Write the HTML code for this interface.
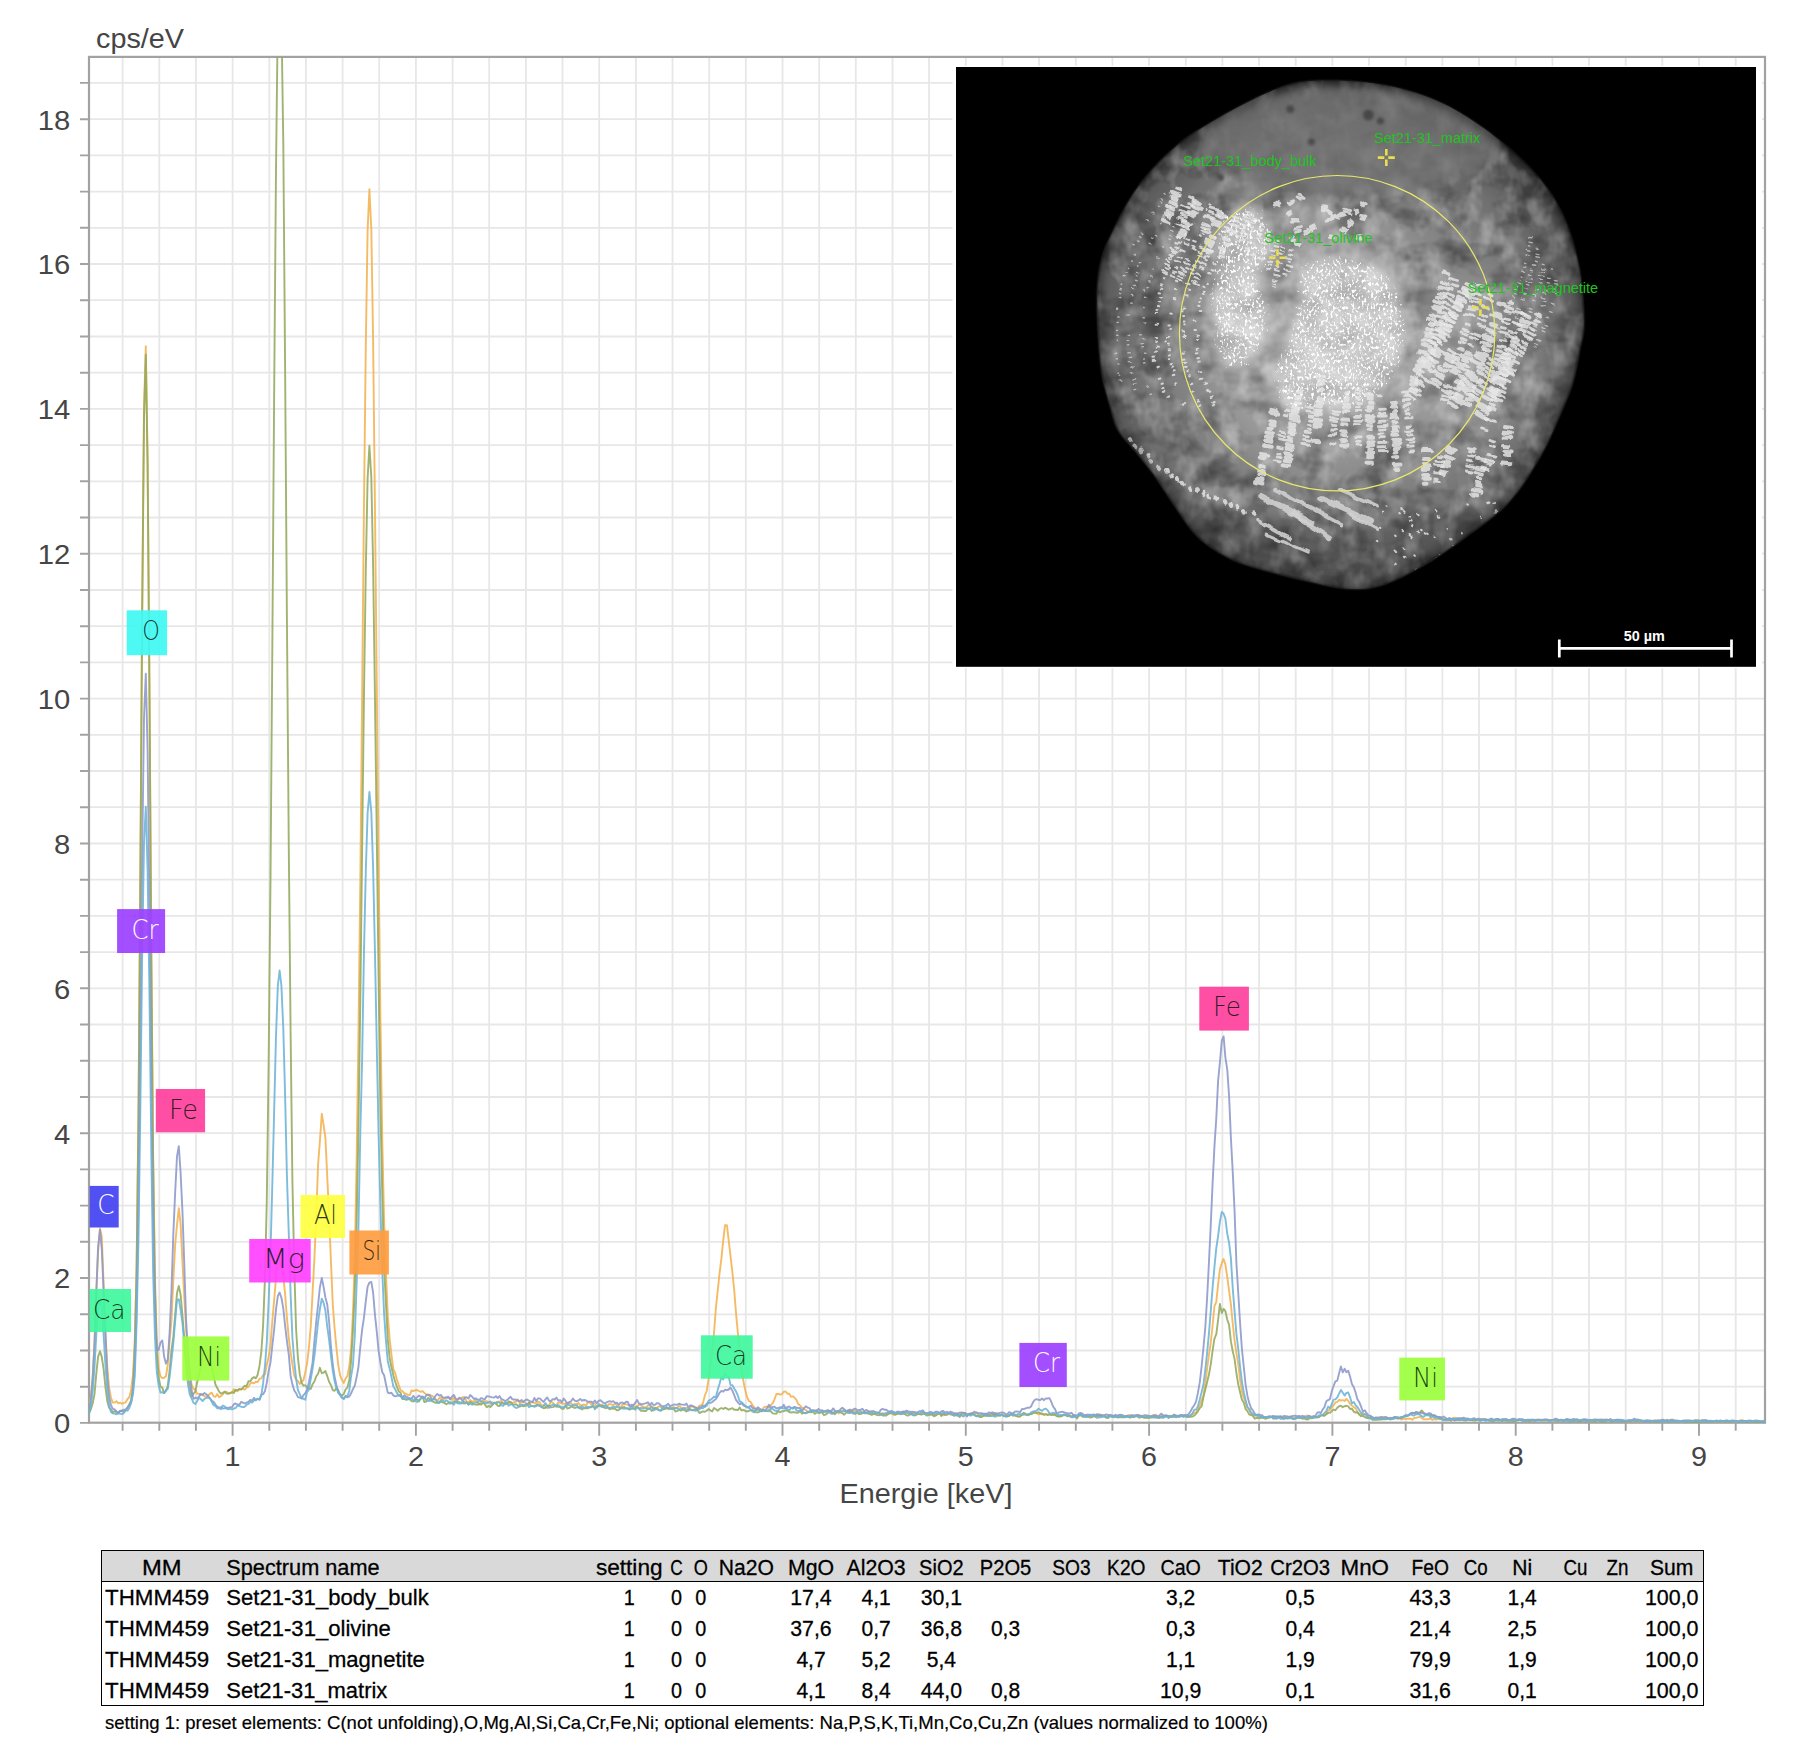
<!DOCTYPE html>
<html lang="de"><head><meta charset="utf-8"><title>EDS Spektrum THMM459 Set21-31</title>
<style>
html,body{margin:0;padding:0;background:#fff;}
body{width:1796px;height:1764px;overflow:hidden;font-family:"Liberation Sans",sans-serif;}
svg{display:block;}
</style></head><body>
<svg width="1796" height="1764" viewBox="0 0 1796 1764">
<rect width="1796" height="1764" fill="#fff"/>
<defs><clipPath id="pc"><rect x="89.0" y="56.9" width="1676.0" height="1366.8"/></clipPath></defs>
<path d="M122.6 56.9V1422.7M159.3 56.9V1422.7M195.9 56.9V1422.7M232.6 56.9V1422.7M269.3 56.9V1422.7M305.9 56.9V1422.7M342.6 56.9V1422.7M379.2 56.9V1422.7M415.9 56.9V1422.7M452.6 56.9V1422.7M489.2 56.9V1422.7M525.9 56.9V1422.7M562.5 56.9V1422.7M599.2 56.9V1422.7M635.9 56.9V1422.7M672.5 56.9V1422.7M709.2 56.9V1422.7M745.8 56.9V1422.7M782.5 56.9V1422.7M819.2 56.9V1422.7M855.8 56.9V1422.7M892.5 56.9V1422.7M929.1 56.9V1422.7M965.8 56.9V1422.7M1002.5 56.9V1422.7M1039.1 56.9V1422.7M1075.8 56.9V1422.7M1112.4 56.9V1422.7M1149.1 56.9V1422.7M1185.8 56.9V1422.7M1222.4 56.9V1422.7M1259.1 56.9V1422.7M1295.7 56.9V1422.7M1332.4 56.9V1422.7M1369.1 56.9V1422.7M1405.7 56.9V1422.7M1442.4 56.9V1422.7M1479.0 56.9V1422.7M1515.7 56.9V1422.7M1552.4 56.9V1422.7M1589.0 56.9V1422.7M1625.7 56.9V1422.7M1662.3 56.9V1422.7M1699.0 56.9V1422.7M1735.7 56.9V1422.7M89.0 1386.7H1765.0M89.0 1350.5H1765.0M89.0 1314.3H1765.0M89.0 1278.0H1765.0M89.0 1241.8H1765.0M89.0 1205.6H1765.0M89.0 1169.4H1765.0M89.0 1133.2H1765.0M89.0 1097.0H1765.0M89.0 1060.8H1765.0M89.0 1024.5H1765.0M89.0 988.3H1765.0M89.0 952.1H1765.0M89.0 915.9H1765.0M89.0 879.7H1765.0M89.0 843.5H1765.0M89.0 807.2H1765.0M89.0 771.0H1765.0M89.0 734.8H1765.0M89.0 698.6H1765.0M89.0 662.4H1765.0M89.0 626.2H1765.0M89.0 590.0H1765.0M89.0 553.7H1765.0M89.0 517.5H1765.0M89.0 481.3H1765.0M89.0 445.1H1765.0M89.0 408.9H1765.0M89.0 372.7H1765.0M89.0 336.5H1765.0M89.0 300.2H1765.0M89.0 264.0H1765.0M89.0 227.8H1765.0M89.0 191.6H1765.0M89.0 155.4H1765.0M89.0 119.2H1765.0M89.0 82.9H1765.0" stroke="#e7e7e7" stroke-width="1.8" fill="none"/>
<rect x="89.0" y="56.9" width="1676.0" height="1365.8" fill="none" stroke="#a2a2a2" stroke-width="2.2"/>
<g clip-path="url(#pc)" fill="none" stroke-width="1.9" stroke-linejoin="round" stroke-opacity="0.88">
<polyline stroke="#f3b24e" points="89.0,1406.5 90.8,1396.7 92.7,1376.5 94.5,1342.3 96.3,1294.0 98.1,1251.6 100.0,1228.4 101.8,1236.9 103.6,1283.7 105.5,1333.0 107.3,1366.8 109.1,1387.8 111.0,1397.8 112.8,1402.6 114.6,1402.6 116.5,1401.2 118.3,1403.3 120.1,1402.7 122.0,1403.8 123.8,1402.9 125.6,1402.4 127.5,1399.0 129.3,1397.3 131.1,1389.9 133.0,1374.8 134.8,1339.1 136.6,1266.7 138.5,1112.1 140.3,877.4 142.1,616.0 144.0,408.9 145.8,346.1 147.6,457.4 149.5,689.8 151.3,946.9 153.1,1154.1 155.0,1280.1 156.8,1339.8 158.6,1368.1 160.5,1376.4 162.3,1378.1 164.1,1377.7 166.0,1376.3 167.8,1364.3 169.6,1341.1 171.5,1319.9 173.3,1280.6 175.1,1245.7 177.0,1225.0 178.8,1208.3 180.6,1223.9 182.5,1263.1 184.3,1297.4 186.1,1329.1 188.0,1357.4 189.8,1373.6 191.6,1384.5 193.5,1388.8 195.3,1389.5 197.1,1393.6 199.0,1393.9 200.8,1394.8 202.6,1394.5 204.5,1396.4 206.3,1396.3 208.1,1395.5 210.0,1393.7 211.8,1392.7 213.6,1396.4 215.5,1396.8 217.3,1394.1 219.1,1397.3 221.0,1396.1 222.8,1394.4 224.6,1391.8 226.5,1391.7 228.3,1393.2 230.1,1393.4 232.0,1392.8 233.8,1389.3 235.6,1391.0 237.5,1391.2 239.3,1389.4 241.1,1389.1 243.0,1388.8 244.8,1389.7 246.6,1387.6 248.5,1386.9 250.3,1383.5 252.1,1382.7 254.0,1383.4 255.8,1381.7 257.6,1382.1 259.5,1378.9 261.3,1378.4 263.1,1375.2 265.0,1374.2 266.8,1364.7 268.6,1357.1 270.5,1344.7 272.3,1321.3 274.1,1300.5 276.0,1278.2 277.8,1255.2 279.6,1258.6 281.4,1266.2 283.3,1276.4 285.1,1294.0 286.9,1317.4 288.8,1338.2 290.6,1352.4 292.4,1364.2 294.3,1375.6 296.1,1379.5 297.9,1381.1 299.8,1384.0 301.6,1381.6 303.4,1380.5 305.3,1372.3 307.1,1363.0 308.9,1347.8 310.8,1325.8 312.6,1292.4 314.4,1258.6 316.3,1214.0 318.1,1164.0 319.9,1141.2 321.8,1113.7 323.6,1124.8 325.4,1138.1 327.3,1177.7 329.1,1216.2 330.9,1260.4 332.8,1305.0 334.6,1328.3 336.4,1347.5 338.3,1365.3 340.1,1375.4 341.9,1379.8 343.8,1382.9 345.6,1378.5 347.4,1376.0 349.3,1366.3 351.1,1348.5 352.9,1314.4 354.8,1259.6 356.6,1161.7 358.4,1040.2 360.3,883.0 362.1,699.5 363.9,511.2 365.8,345.5 367.6,230.9 369.4,189.3 371.3,228.5 373.1,340.1 374.9,502.0 376.8,685.6 378.6,863.7 380.4,1017.4 382.3,1142.0 384.1,1220.6 385.9,1271.7 387.8,1316.4 389.6,1338.7 391.4,1354.4 393.3,1368.8 395.1,1373.0 396.9,1379.8 398.8,1385.3 400.6,1390.3 402.4,1391.1 404.3,1393.3 406.1,1393.7 407.9,1394.9 409.8,1395.1 411.6,1390.3 413.4,1391.1 415.3,1390.2 417.1,1390.0 418.9,1391.0 420.8,1391.9 422.6,1391.0 424.4,1393.1 426.3,1394.6 428.1,1395.5 429.9,1394.7 431.8,1395.8 433.6,1397.1 435.4,1399.1 437.3,1401.1 439.1,1398.3 440.9,1397.3 442.8,1399.0 444.6,1398.7 446.4,1398.1 448.3,1398.0 450.1,1397.9 451.9,1399.9 453.8,1397.8 455.6,1400.9 457.4,1399.3 459.3,1398.9 461.1,1398.6 462.9,1397.1 464.7,1397.3 466.6,1401.2 468.4,1403.2 470.2,1400.1 472.1,1401.5 473.9,1401.1 475.7,1399.5 477.6,1402.6 479.4,1404.5 481.2,1401.5 483.1,1400.7 484.9,1401.3 486.7,1401.1 488.6,1402.3 490.4,1403.7 492.2,1402.2 494.1,1402.8 495.9,1404.1 497.7,1401.6 499.6,1401.4 501.4,1401.1 503.2,1402.9 505.1,1403.1 506.9,1403.5 508.7,1403.6 510.6,1402.1 512.4,1403.0 514.2,1402.0 516.1,1401.6 517.9,1399.4 519.7,1403.2 521.6,1401.8 523.4,1402.1 525.2,1402.5 527.1,1404.4 528.9,1403.8 530.7,1401.8 532.6,1402.5 534.4,1402.7 536.2,1403.1 538.1,1401.5 539.9,1402.4 541.7,1405.9 543.6,1404.9 545.4,1406.0 547.2,1408.2 549.1,1405.3 550.9,1401.8 552.7,1402.7 554.6,1404.9 556.4,1405.2 558.2,1402.4 560.1,1402.9 561.9,1403.5 563.7,1403.7 565.6,1403.7 567.4,1402.7 569.2,1402.8 571.1,1403.4 572.9,1405.2 574.7,1403.8 576.6,1404.7 578.4,1403.0 580.2,1405.3 582.1,1405.0 583.9,1404.4 585.7,1406.0 587.6,1402.8 589.4,1401.9 591.2,1404.5 593.1,1403.8 594.9,1403.9 596.7,1407.8 598.6,1405.6 600.4,1404.8 602.2,1404.8 604.1,1406.3 605.9,1405.8 607.7,1405.5 609.6,1403.8 611.4,1404.4 613.2,1405.2 615.1,1403.5 616.9,1405.5 618.7,1406.3 620.6,1408.0 622.4,1404.5 624.2,1404.0 626.1,1404.4 627.9,1404.7 629.7,1405.6 631.6,1405.8 633.4,1406.4 635.2,1406.6 637.1,1406.3 638.9,1404.5 640.7,1405.2 642.6,1406.4 644.4,1407.3 646.2,1407.6 648.0,1405.1 649.9,1405.6 651.7,1406.6 653.5,1407.3 655.4,1408.4 657.2,1407.6 659.0,1406.2 660.9,1407.3 662.7,1407.7 664.5,1407.7 666.4,1407.4 668.2,1409.3 670.0,1408.5 671.9,1408.7 673.7,1407.0 675.5,1408.3 677.4,1407.4 679.2,1405.9 681.0,1407.7 682.9,1408.8 684.7,1408.0 686.5,1407.9 688.4,1409.1 690.2,1407.8 692.0,1405.4 693.9,1407.2 695.7,1407.6 697.5,1408.0 699.4,1405.7 701.2,1405.3 703.0,1403.1 704.9,1395.3 706.7,1391.0 708.5,1379.6 710.4,1364.9 712.2,1351.7 714.0,1333.3 715.9,1307.8 717.7,1290.9 719.5,1273.6 721.4,1258.7 723.2,1240.6 725.0,1225.3 726.9,1225.2 728.7,1240.5 730.5,1255.8 732.4,1272.4 734.2,1290.2 736.0,1312.9 737.9,1333.2 739.7,1351.5 741.5,1368.7 743.4,1381.1 745.2,1389.9 747.0,1397.0 748.9,1401.0 750.7,1402.1 752.5,1405.2 754.4,1407.5 756.2,1410.3 758.0,1408.9 759.9,1410.8 761.7,1411.0 763.5,1407.9 765.4,1406.6 767.2,1406.8 769.0,1407.8 770.9,1405.2 772.7,1403.2 774.5,1399.3 776.4,1394.0 778.2,1393.9 780.0,1394.5 781.9,1394.3 783.7,1391.8 785.5,1391.4 787.4,1393.7 789.2,1393.6 791.0,1396.8 792.9,1396.3 794.7,1397.7 796.5,1400.1 798.4,1404.3 800.2,1405.6 802.0,1407.4 803.9,1409.1 805.7,1410.0 807.5,1411.5 809.4,1412.4 811.2,1410.4 813.0,1410.8 814.9,1410.9 816.7,1410.1 818.5,1412.6 820.4,1412.6 822.2,1411.4 824.0,1410.9 825.9,1411.7 827.7,1410.6 829.5,1411.0 831.3,1412.7 833.2,1412.9 835.0,1411.1 836.8,1410.9 838.7,1413.4 840.5,1411.0 842.3,1410.7 844.2,1410.3 846.0,1411.8 847.8,1412.3 849.7,1413.1 851.5,1409.8 853.3,1411.3 855.2,1410.5 857.0,1412.2 858.8,1412.1 860.7,1413.7 862.5,1413.1 864.3,1411.4 866.2,1413.1 868.0,1411.6 869.8,1411.6 871.7,1413.2 873.5,1413.2 875.3,1413.0 877.2,1412.6 879.0,1413.0 880.8,1413.5 882.7,1413.1 884.5,1413.7 886.3,1414.2 888.2,1413.1 890.0,1411.9 891.8,1413.9 893.7,1413.3 895.5,1413.4 897.3,1414.0 899.2,1412.4 901.0,1413.1 902.8,1411.7 904.7,1413.3 906.5,1412.9 908.3,1413.2 910.2,1413.9 912.0,1412.8 913.8,1413.1 915.7,1412.7 917.5,1413.1 919.3,1414.3 921.2,1413.7 923.0,1413.3 924.8,1412.5 926.7,1414.0 928.5,1413.8 930.3,1415.1 932.2,1413.5 934.0,1414.4 935.8,1415.6 937.7,1414.2 939.5,1412.7 941.3,1414.8 943.2,1415.2 945.0,1414.8 946.8,1415.1 948.7,1413.9 950.5,1414.5 952.3,1414.8 954.2,1413.7 956.0,1414.5 957.8,1413.9 959.7,1414.8 961.5,1415.5 963.3,1416.1 965.2,1413.1 967.0,1414.0 968.8,1414.1 970.7,1414.2 972.5,1414.2 974.3,1414.2 976.2,1412.7 978.0,1414.7 979.8,1416.0 981.7,1415.7 983.5,1415.8 985.3,1414.2 987.2,1413.5 989.0,1415.1 990.8,1416.0 992.7,1415.2 994.5,1413.5 996.3,1416.6 998.2,1414.9 1000.0,1415.4 1001.8,1414.1 1003.7,1415.3 1005.5,1415.2 1007.3,1416.0 1009.2,1416.0 1011.0,1413.8 1012.8,1413.7 1014.6,1414.9 1016.5,1415.6 1018.3,1416.6 1020.1,1415.6 1022.0,1414.8 1023.8,1414.7 1025.6,1414.6 1027.5,1415.4 1029.3,1414.7 1031.1,1414.2 1033.0,1412.9 1034.8,1411.8 1036.6,1413.3 1038.5,1414.4 1040.3,1413.9 1042.1,1414.2 1044.0,1414.6 1045.8,1414.1 1047.6,1414.9 1049.5,1414.0 1051.3,1414.3 1053.1,1414.4 1055.0,1414.8 1056.8,1415.5 1058.6,1416.0 1060.5,1415.6 1062.3,1415.7 1064.1,1415.2 1066.0,1415.3 1067.8,1416.5 1069.6,1415.7 1071.5,1416.5 1073.3,1416.3 1075.1,1415.9 1077.0,1417.3 1078.8,1416.0 1080.6,1415.4 1082.5,1415.7 1084.3,1416.0 1086.1,1416.0 1088.0,1416.5 1089.8,1416.1 1091.6,1416.2 1093.5,1415.8 1095.3,1416.7 1097.1,1415.9 1099.0,1415.6 1100.8,1415.9 1102.6,1416.2 1104.5,1415.5 1106.3,1417.0 1108.1,1416.0 1110.0,1415.6 1111.8,1415.7 1113.6,1415.6 1115.5,1416.4 1117.3,1416.4 1119.1,1415.6 1121.0,1415.6 1122.8,1415.8 1124.6,1417.2 1126.5,1416.1 1128.3,1415.1 1130.1,1415.1 1132.0,1415.7 1133.8,1417.3 1135.6,1415.9 1137.5,1416.1 1139.3,1418.2 1141.1,1416.6 1143.0,1417.3 1144.8,1417.7 1146.6,1417.1 1148.5,1415.6 1150.3,1416.3 1152.1,1416.3 1154.0,1415.0 1155.8,1414.8 1157.6,1416.1 1159.5,1416.7 1161.3,1417.5 1163.1,1417.3 1165.0,1416.3 1166.8,1416.1 1168.6,1416.3 1170.5,1415.7 1172.3,1416.8 1174.1,1416.7 1176.0,1415.9 1177.8,1415.8 1179.6,1415.4 1181.5,1415.8 1183.3,1416.4 1185.1,1415.9 1187.0,1416.6 1188.8,1417.2 1190.6,1415.1 1192.5,1414.2 1194.3,1412.8 1196.1,1412.8 1197.9,1409.4 1199.8,1405.2 1201.6,1400.3 1203.4,1395.5 1205.3,1383.9 1207.1,1368.5 1208.9,1354.9 1210.8,1342.5 1212.6,1325.5 1214.4,1306.3 1216.3,1301.9 1218.1,1284.4 1219.9,1269.5 1221.8,1263.1 1223.6,1259.0 1225.4,1264.5 1227.3,1277.2 1229.1,1290.8 1230.9,1304.4 1232.8,1324.2 1234.6,1340.4 1236.4,1353.1 1238.3,1364.3 1240.1,1380.1 1241.9,1391.0 1243.8,1398.2 1245.6,1402.4 1247.4,1407.9 1249.3,1409.9 1251.1,1413.8 1252.9,1415.1 1254.8,1415.8 1256.6,1415.6 1258.4,1415.5 1260.3,1417.5 1262.1,1417.9 1263.9,1416.9 1265.8,1417.4 1267.6,1418.3 1269.4,1416.8 1271.3,1416.6 1273.1,1416.8 1274.9,1417.5 1276.8,1416.7 1278.6,1417.3 1280.4,1416.7 1282.3,1417.8 1284.1,1418.2 1285.9,1417.5 1287.8,1417.9 1289.6,1417.2 1291.4,1417.2 1293.3,1418.1 1295.1,1417.7 1296.9,1417.7 1298.8,1417.0 1300.6,1417.8 1302.4,1418.0 1304.3,1416.8 1306.1,1415.7 1307.9,1415.6 1309.8,1417.0 1311.6,1417.2 1313.4,1416.1 1315.3,1416.8 1317.1,1417.5 1318.9,1416.4 1320.8,1415.3 1322.6,1415.4 1324.4,1415.5 1326.3,1414.3 1328.1,1410.7 1329.9,1409.7 1331.8,1407.7 1333.6,1405.1 1335.4,1402.5 1337.3,1401.9 1339.1,1399.8 1340.9,1400.5 1342.8,1400.1 1344.6,1401.0 1346.4,1399.0 1348.3,1400.9 1350.1,1404.0 1351.9,1405.6 1353.8,1407.3 1355.6,1408.2 1357.4,1412.1 1359.3,1413.9 1361.1,1414.4 1362.9,1413.0 1364.8,1414.5 1366.6,1416.5 1368.4,1416.7 1370.3,1416.0 1372.1,1417.5 1373.9,1418.3 1375.8,1417.4 1377.6,1417.6 1379.4,1417.8 1381.2,1418.5 1383.1,1417.3 1384.9,1416.9 1386.7,1417.7 1388.6,1417.9 1390.4,1419.6 1392.2,1418.5 1394.1,1418.5 1395.9,1418.3 1397.7,1418.0 1399.6,1418.6 1401.4,1419.6 1403.2,1418.6 1405.1,1418.8 1406.9,1418.7 1408.7,1418.7 1410.6,1418.6 1412.4,1419.7 1414.2,1417.9 1416.1,1417.7 1417.9,1417.4 1419.7,1416.6 1421.6,1417.7 1423.4,1419.4 1425.2,1419.2 1427.1,1419.3 1428.9,1419.0 1430.7,1418.6 1432.6,1419.9 1434.4,1419.0 1436.2,1419.7 1438.1,1419.0 1439.9,1419.0 1441.7,1419.2 1443.6,1419.2 1445.4,1419.4 1447.2,1419.6 1449.1,1420.3 1450.9,1419.6 1452.7,1418.2 1454.6,1417.8 1456.4,1418.2 1458.2,1418.7 1460.1,1419.6 1461.9,1418.7 1463.7,1419.2 1465.6,1419.5 1467.4,1419.6 1469.2,1419.5 1471.1,1419.7 1472.9,1419.6 1474.7,1420.1 1476.6,1419.9 1478.4,1418.4 1480.2,1419.2 1482.1,1419.7 1483.9,1419.4 1485.7,1419.2 1487.6,1420.1 1489.4,1420.0 1491.2,1419.3 1493.1,1419.4 1494.9,1419.6 1496.7,1419.0 1498.6,1419.9 1500.4,1419.9 1502.2,1420.1 1504.1,1419.2 1505.9,1420.6 1507.7,1420.6 1509.6,1420.3 1511.4,1419.7 1513.2,1419.6 1515.1,1419.2 1516.9,1420.6 1518.7,1419.9 1520.6,1420.0 1522.4,1420.4 1524.2,1419.9 1526.1,1420.4 1527.9,1421.2 1529.7,1420.6 1531.6,1420.9 1533.4,1420.7 1535.2,1420.0 1537.1,1419.9 1538.9,1419.3 1540.7,1420.0 1542.6,1420.9 1544.4,1420.8 1546.2,1420.7 1548.1,1420.9 1549.9,1420.2 1551.7,1420.4 1553.6,1421.3 1555.4,1420.2 1557.2,1420.2 1559.1,1420.1 1560.9,1420.2 1562.7,1420.0 1564.5,1420.2 1566.4,1419.7 1568.2,1419.9 1570.0,1420.1 1571.9,1420.1 1573.7,1421.0 1575.5,1420.6 1577.4,1420.5 1579.2,1420.3 1581.0,1421.0 1582.9,1419.8 1584.7,1420.1 1586.5,1420.9 1588.4,1421.4 1590.2,1420.8 1592.0,1420.5 1593.9,1420.8 1595.7,1420.5 1597.5,1420.7 1599.4,1420.3 1601.2,1420.7 1603.0,1420.6 1604.9,1420.1 1606.7,1419.2 1608.5,1420.6 1610.4,1420.9 1612.2,1421.0 1614.0,1420.3 1615.9,1421.0 1617.7,1421.0 1619.5,1420.7 1621.4,1421.0 1623.2,1421.2 1625.0,1421.0 1626.9,1421.6 1628.7,1421.6 1630.5,1421.0 1632.4,1420.7 1634.2,1420.7 1636.0,1421.5 1637.9,1421.2 1639.7,1420.4 1641.5,1420.4 1643.4,1420.7 1645.2,1421.1 1647.0,1420.6 1648.9,1420.9 1650.7,1421.3 1652.5,1421.3 1654.4,1420.3 1656.2,1420.5 1658.0,1420.3 1659.9,1420.9 1661.7,1420.5 1663.5,1421.0 1665.4,1421.0 1667.2,1419.8 1669.0,1420.2 1670.9,1421.0 1672.7,1421.0 1674.5,1420.8 1676.4,1420.4 1678.2,1421.0 1680.0,1421.7 1681.9,1421.3 1683.7,1421.0 1685.5,1420.9 1687.4,1420.4 1689.2,1420.7 1691.0,1420.6 1692.9,1421.3 1694.7,1420.8 1696.5,1420.1 1698.4,1420.4 1700.2,1420.8 1702.0,1421.0 1703.9,1420.3 1705.7,1421.2 1707.5,1421.3 1709.4,1420.9 1711.2,1420.8 1713.0,1421.2 1714.9,1421.1 1716.7,1421.2 1718.5,1421.1 1720.4,1421.2 1722.2,1421.6 1724.0,1421.3 1725.9,1420.9 1727.7,1421.5 1729.5,1421.4 1731.4,1421.0 1733.2,1421.6 1735.0,1421.3 1736.9,1421.6 1738.7,1421.0 1740.5,1420.3 1742.4,1420.2 1744.2,1421.1 1746.0,1421.1 1747.8,1421.2 1749.7,1421.3 1751.5,1420.8 1753.3,1421.6 1755.2,1421.1 1757.0,1421.3 1758.8,1420.9 1760.7,1421.1 1762.5,1421.6 1764.3,1421.4 1766.2,1421.1"/>
<polyline stroke="#93a95c" points="89.0,1413.3 90.8,1409.4 92.7,1403.3 94.5,1394.3 96.3,1373.7 98.1,1356.6 100.0,1351.3 101.8,1357.1 103.6,1369.2 105.5,1387.7 107.3,1401.2 109.1,1407.7 111.0,1409.3 112.8,1412.6 114.6,1411.2 116.5,1412.2 118.3,1413.2 120.1,1410.8 122.0,1411.0 123.8,1412.1 125.6,1410.7 127.5,1407.6 129.3,1404.3 131.1,1400.8 133.0,1386.0 134.8,1347.7 136.6,1269.4 138.5,1114.7 140.3,887.4 142.1,625.3 144.0,417.6 145.8,354.8 147.6,466.9 149.5,700.4 151.3,958.7 153.1,1160.0 155.0,1290.3 156.8,1353.0 158.6,1377.3 160.5,1386.7 162.3,1387.6 164.1,1393.2 166.0,1390.9 167.8,1385.9 169.6,1370.3 171.5,1350.1 173.3,1336.9 175.1,1315.5 177.0,1293.0 178.8,1286.0 180.6,1294.7 182.5,1316.2 184.3,1338.8 186.1,1359.8 188.0,1377.8 189.8,1386.6 191.6,1396.2 193.5,1393.6 195.3,1391.6 197.1,1382.7 199.0,1374.6 200.8,1366.6 202.6,1354.8 204.5,1350.7 206.3,1350.6 208.1,1356.2 210.0,1360.9 211.8,1368.1 213.6,1375.8 215.5,1384.8 217.3,1388.0 219.1,1391.7 221.0,1393.6 222.8,1392.9 224.6,1391.8 226.5,1393.5 228.3,1393.7 230.1,1393.0 232.0,1392.1 233.8,1393.0 235.6,1389.7 237.5,1390.3 239.3,1388.9 241.1,1389.7 243.0,1387.5 244.8,1385.8 246.6,1386.2 248.5,1381.1 250.3,1381.4 252.1,1378.3 254.0,1377.1 255.8,1378.3 257.6,1375.0 259.5,1365.9 261.3,1352.2 263.1,1325.6 265.0,1277.2 266.8,1200.5 268.6,1066.0 270.5,878.6 272.3,650.6 274.1,401.1 276.0,169.7 277.8,16.9 279.6,16.9 281.4,16.9 283.3,142.5 285.1,367.6 286.9,616.5 288.8,849.0 290.6,1031.8 292.4,1180.5 294.3,1269.0 296.1,1329.2 297.9,1357.6 299.8,1374.4 301.6,1382.8 303.4,1385.7 305.3,1385.2 307.1,1387.8 308.9,1388.3 310.8,1388.8 312.6,1384.2 314.4,1381.5 316.3,1376.2 318.1,1373.7 319.9,1367.8 321.8,1373.2 323.6,1372.6 325.4,1371.1 327.3,1376.2 329.1,1381.8 330.9,1385.0 332.8,1390.1 334.6,1390.8 336.4,1388.1 338.3,1390.2 340.1,1394.9 341.9,1395.6 343.8,1394.0 345.6,1389.4 347.4,1387.6 349.3,1380.3 351.1,1361.2 352.9,1331.8 354.8,1289.4 356.6,1224.3 358.4,1130.7 360.3,1002.6 362.1,849.9 363.9,700.8 365.8,569.6 367.6,478.9 369.4,445.8 371.3,476.8 373.1,565.0 374.9,693.1 376.8,838.3 378.6,979.1 380.4,1106.5 382.3,1196.1 384.1,1267.3 385.9,1302.9 387.8,1339.8 389.6,1357.7 391.4,1366.9 393.3,1375.3 395.1,1381.5 396.9,1386.6 398.8,1391.5 400.6,1392.7 402.4,1399.1 404.3,1398.8 406.1,1399.7 407.9,1399.4 409.8,1399.3 411.6,1401.1 413.4,1401.5 415.3,1399.5 417.1,1399.6 418.9,1401.4 420.8,1398.3 422.6,1396.9 424.4,1402.1 426.3,1401.5 428.1,1397.9 429.9,1399.3 431.8,1401.0 433.6,1402.0 435.4,1402.7 437.3,1402.5 439.1,1402.9 440.9,1401.4 442.8,1402.4 444.6,1403.1 446.4,1404.2 448.3,1403.0 450.1,1403.7 451.9,1403.2 453.8,1401.4 455.6,1401.8 457.4,1402.0 459.3,1402.2 461.1,1402.7 462.9,1403.2 464.7,1403.6 466.6,1402.3 468.4,1404.3 470.2,1402.0 472.1,1402.8 473.9,1404.4 475.7,1404.5 477.6,1404.7 479.4,1403.8 481.2,1404.6 483.1,1402.7 484.9,1404.4 486.7,1407.2 488.6,1405.9 490.4,1407.0 492.2,1405.1 494.1,1402.9 495.9,1403.1 497.7,1405.8 499.6,1406.0 501.4,1402.6 503.2,1403.5 505.1,1404.5 506.9,1403.4 508.7,1401.3 510.6,1402.2 512.4,1404.2 514.2,1404.5 516.1,1404.2 517.9,1405.6 519.7,1406.7 521.6,1405.6 523.4,1406.4 525.2,1405.8 527.1,1405.3 528.9,1402.6 530.7,1405.6 532.6,1406.1 534.4,1405.9 536.2,1405.2 538.1,1404.3 539.9,1406.0 541.7,1407.1 543.6,1408.2 545.4,1407.8 547.2,1405.8 549.1,1405.8 550.9,1407.4 552.7,1407.1 554.6,1406.4 556.4,1405.7 558.2,1406.9 560.1,1407.0 561.9,1408.8 563.7,1408.7 565.6,1405.2 567.4,1408.6 569.2,1408.0 571.1,1406.7 572.9,1407.2 574.7,1408.0 576.6,1407.4 578.4,1407.1 580.2,1407.2 582.1,1409.4 583.9,1408.1 585.7,1408.3 587.6,1408.3 589.4,1407.3 591.2,1406.6 593.1,1406.2 594.9,1407.8 596.7,1406.7 598.6,1406.0 600.4,1406.0 602.2,1405.8 604.1,1407.5 605.9,1408.2 607.7,1407.1 609.6,1409.3 611.4,1408.4 613.2,1408.7 615.1,1408.8 616.9,1410.3 618.7,1410.0 620.6,1408.7 622.4,1407.4 624.2,1407.0 626.1,1408.3 627.9,1408.8 629.7,1409.6 631.6,1408.6 633.4,1408.9 635.2,1408.3 637.1,1406.7 638.9,1408.3 640.7,1410.7 642.6,1410.5 644.4,1411.0 646.2,1411.0 648.0,1408.3 649.9,1408.6 651.7,1410.9 653.5,1409.2 655.4,1407.9 657.2,1409.5 659.0,1410.4 660.9,1410.2 662.7,1409.5 664.5,1409.0 666.4,1408.3 668.2,1408.2 670.0,1408.2 671.9,1408.1 673.7,1408.9 675.5,1411.5 677.4,1410.8 679.2,1409.9 681.0,1410.6 682.9,1409.5 684.7,1410.4 686.5,1411.5 688.4,1409.3 690.2,1409.3 692.0,1410.1 693.9,1409.6 695.7,1409.2 697.5,1410.0 699.4,1413.1 701.2,1412.2 703.0,1411.4 704.9,1411.8 706.7,1410.7 708.5,1409.1 710.4,1410.4 712.2,1411.4 714.0,1408.0 715.9,1409.2 717.7,1410.7 719.5,1409.0 721.4,1408.0 723.2,1409.0 725.0,1407.7 726.9,1408.6 728.7,1409.7 730.5,1408.8 732.4,1408.1 734.2,1409.8 736.0,1409.7 737.9,1410.1 739.7,1407.6 741.5,1410.5 743.4,1409.8 745.2,1410.8 747.0,1411.5 748.9,1410.8 750.7,1410.4 752.5,1410.0 754.4,1410.9 756.2,1412.2 758.0,1412.4 759.9,1411.4 761.7,1411.0 763.5,1410.3 765.4,1411.0 767.2,1410.7 769.0,1410.1 770.9,1411.3 772.7,1413.4 774.5,1413.6 776.4,1413.8 778.2,1411.0 780.0,1412.4 781.9,1411.2 783.7,1411.2 785.5,1410.4 787.4,1410.7 789.2,1412.0 791.0,1412.5 792.9,1412.3 794.7,1412.2 796.5,1412.8 798.4,1412.6 800.2,1410.9 802.0,1413.6 803.9,1412.8 805.7,1413.3 807.5,1412.7 809.4,1411.7 811.2,1412.4 813.0,1411.9 814.9,1413.9 816.7,1412.2 818.5,1413.0 820.4,1412.4 822.2,1412.4 824.0,1415.2 825.9,1414.4 827.7,1412.9 829.5,1411.4 831.3,1412.2 833.2,1412.6 835.0,1414.2 836.8,1412.1 838.7,1410.9 840.5,1412.5 842.3,1413.3 844.2,1414.7 846.0,1412.8 847.8,1410.4 849.7,1411.7 851.5,1411.9 853.3,1412.4 855.2,1414.0 857.0,1412.4 858.8,1414.1 860.7,1413.9 862.5,1413.2 864.3,1412.5 866.2,1412.8 868.0,1413.0 869.8,1414.1 871.7,1414.9 873.5,1413.9 875.3,1414.2 877.2,1415.0 879.0,1415.2 880.8,1414.5 882.7,1415.5 884.5,1415.5 886.3,1415.6 888.2,1414.1 890.0,1413.4 891.8,1411.9 893.7,1414.6 895.5,1414.9 897.3,1413.3 899.2,1413.9 901.0,1414.3 902.8,1412.6 904.7,1413.8 906.5,1415.2 908.3,1415.6 910.2,1414.2 912.0,1413.8 913.8,1415.3 915.7,1415.4 917.5,1414.0 919.3,1413.6 921.2,1414.7 923.0,1413.9 924.8,1413.7 926.7,1415.7 928.5,1415.2 930.3,1414.1 932.2,1414.8 934.0,1416.4 935.8,1415.3 937.7,1414.0 939.5,1413.0 941.3,1416.0 943.2,1413.0 945.0,1414.8 946.8,1414.2 948.7,1413.4 950.5,1413.5 952.3,1414.3 954.2,1415.7 956.0,1414.6 957.8,1415.2 959.7,1417.1 961.5,1413.2 963.3,1413.5 965.2,1413.2 967.0,1415.2 968.8,1414.0 970.7,1413.3 972.5,1413.3 974.3,1414.6 976.2,1416.0 978.0,1415.6 979.8,1417.0 981.7,1417.1 983.5,1415.5 985.3,1415.9 987.2,1415.6 989.0,1415.3 990.8,1413.7 992.7,1413.7 994.5,1415.0 996.3,1414.3 998.2,1415.6 1000.0,1415.8 1001.8,1414.7 1003.7,1416.1 1005.5,1415.9 1007.3,1416.5 1009.2,1415.7 1011.0,1414.1 1012.8,1415.6 1014.6,1415.5 1016.5,1416.1 1018.3,1416.5 1020.1,1416.6 1022.0,1414.3 1023.8,1412.7 1025.6,1413.8 1027.5,1415.1 1029.3,1413.9 1031.1,1414.1 1033.0,1413.1 1034.8,1412.9 1036.6,1412.8 1038.5,1412.4 1040.3,1413.3 1042.1,1413.5 1044.0,1414.8 1045.8,1414.2 1047.6,1415.0 1049.5,1414.4 1051.3,1415.1 1053.1,1414.8 1055.0,1414.5 1056.8,1416.2 1058.6,1416.5 1060.5,1416.6 1062.3,1415.4 1064.1,1414.4 1066.0,1414.9 1067.8,1416.1 1069.6,1415.1 1071.5,1416.9 1073.3,1415.4 1075.1,1416.3 1077.0,1418.5 1078.8,1415.0 1080.6,1414.4 1082.5,1416.7 1084.3,1416.5 1086.1,1416.5 1088.0,1416.4 1089.8,1417.5 1091.6,1417.3 1093.5,1416.3 1095.3,1416.2 1097.1,1415.5 1099.0,1416.2 1100.8,1414.8 1102.6,1416.5 1104.5,1416.6 1106.3,1417.9 1108.1,1418.0 1110.0,1416.0 1111.8,1417.0 1113.6,1416.5 1115.5,1416.6 1117.3,1417.5 1119.1,1417.3 1121.0,1417.2 1122.8,1417.3 1124.6,1416.4 1126.5,1416.2 1128.3,1417.1 1130.1,1417.7 1132.0,1416.9 1133.8,1416.9 1135.6,1416.2 1137.5,1414.8 1139.3,1415.8 1141.1,1416.8 1143.0,1417.2 1144.8,1417.7 1146.6,1417.9 1148.5,1418.0 1150.3,1417.6 1152.1,1417.5 1154.0,1416.7 1155.8,1417.3 1157.6,1417.4 1159.5,1418.1 1161.3,1416.3 1163.1,1416.5 1165.0,1415.8 1166.8,1416.2 1168.6,1416.0 1170.5,1417.0 1172.3,1416.8 1174.1,1415.2 1176.0,1417.4 1177.8,1416.7 1179.6,1415.7 1181.5,1416.4 1183.3,1416.4 1185.1,1415.9 1187.0,1417.0 1188.8,1416.5 1190.6,1416.9 1192.5,1416.5 1194.3,1415.6 1196.1,1413.8 1197.9,1411.4 1199.8,1408.1 1201.6,1406.3 1203.4,1397.2 1205.3,1389.6 1207.1,1382.2 1208.9,1374.8 1210.8,1364.1 1212.6,1350.7 1214.4,1338.8 1216.3,1334.1 1218.1,1320.0 1219.9,1303.9 1221.8,1313.1 1223.6,1308.9 1225.4,1311.2 1227.3,1319.8 1229.1,1324.9 1230.9,1341.4 1232.8,1351.6 1234.6,1359.1 1236.4,1373.1 1238.3,1384.6 1240.1,1392.2 1241.9,1399.7 1243.8,1402.7 1245.6,1409.1 1247.4,1411.1 1249.3,1414.6 1251.1,1415.0 1252.9,1416.0 1254.8,1418.7 1256.6,1417.8 1258.4,1418.2 1260.3,1418.1 1262.1,1416.7 1263.9,1418.2 1265.8,1418.8 1267.6,1417.2 1269.4,1417.5 1271.3,1416.9 1273.1,1417.5 1274.9,1418.6 1276.8,1418.3 1278.6,1417.3 1280.4,1417.2 1282.3,1417.9 1284.1,1418.1 1285.9,1418.2 1287.8,1418.6 1289.6,1417.1 1291.4,1417.8 1293.3,1419.0 1295.1,1418.8 1296.9,1417.9 1298.8,1417.7 1300.6,1418.2 1302.4,1418.7 1304.3,1418.4 1306.1,1419.4 1307.9,1419.5 1309.8,1418.0 1311.6,1418.3 1313.4,1417.9 1315.3,1417.0 1317.1,1417.0 1318.9,1417.2 1320.8,1415.4 1322.6,1415.3 1324.4,1415.7 1326.3,1414.1 1328.1,1412.9 1329.9,1412.9 1331.8,1411.0 1333.6,1409.5 1335.4,1410.3 1337.3,1407.8 1339.1,1406.2 1340.9,1405.8 1342.8,1407.2 1344.6,1406.2 1346.4,1405.8 1348.3,1406.4 1350.1,1409.0 1351.9,1408.8 1353.8,1411.6 1355.6,1412.6 1357.4,1412.2 1359.3,1414.8 1361.1,1416.2 1362.9,1415.8 1364.8,1417.2 1366.6,1418.0 1368.4,1418.0 1370.3,1417.7 1372.1,1419.7 1373.9,1419.7 1375.8,1419.6 1377.6,1419.7 1379.4,1419.6 1381.2,1419.6 1383.1,1419.0 1384.9,1419.4 1386.7,1419.1 1388.6,1418.7 1390.4,1419.3 1392.2,1418.9 1394.1,1417.6 1395.9,1417.9 1397.7,1418.6 1399.6,1418.1 1401.4,1418.1 1403.2,1417.0 1405.1,1415.6 1406.9,1416.1 1408.7,1415.3 1410.6,1413.3 1412.4,1413.6 1414.2,1412.9 1416.1,1413.4 1417.9,1413.4 1419.7,1412.9 1421.6,1410.4 1423.4,1412.4 1425.2,1413.8 1427.1,1414.5 1428.9,1414.9 1430.7,1414.9 1432.6,1415.8 1434.4,1415.3 1436.2,1416.8 1438.1,1417.0 1439.9,1417.9 1441.7,1418.3 1443.6,1419.8 1445.4,1419.6 1447.2,1419.5 1449.1,1419.7 1450.9,1420.8 1452.7,1419.6 1454.6,1419.8 1456.4,1420.0 1458.2,1420.0 1460.1,1420.0 1461.9,1419.6 1463.7,1420.4 1465.6,1420.6 1467.4,1419.9 1469.2,1419.8 1471.1,1420.1 1472.9,1420.3 1474.7,1420.5 1476.6,1420.1 1478.4,1419.4 1480.2,1420.3 1482.1,1419.4 1483.9,1419.4 1485.7,1420.2 1487.6,1419.8 1489.4,1420.7 1491.2,1421.2 1493.1,1421.1 1494.9,1420.6 1496.7,1420.4 1498.6,1420.5 1500.4,1420.2 1502.2,1421.2 1504.1,1420.4 1505.9,1420.9 1507.7,1420.8 1509.6,1420.6 1511.4,1420.9 1513.2,1421.2 1515.1,1421.0 1516.9,1420.5 1518.7,1420.1 1520.6,1420.0 1522.4,1420.8 1524.2,1420.9 1526.1,1421.0 1527.9,1420.4 1529.7,1421.3 1531.6,1420.2 1533.4,1420.5 1535.2,1420.9 1537.1,1420.4 1538.9,1420.0 1540.7,1420.2 1542.6,1420.0 1544.4,1420.3 1546.2,1420.0 1548.1,1419.8 1549.9,1420.4 1551.7,1419.9 1553.6,1420.3 1555.4,1420.5 1557.2,1421.0 1559.1,1420.9 1560.9,1420.3 1562.7,1421.1 1564.5,1420.5 1566.4,1420.4 1568.2,1420.5 1570.0,1421.6 1571.9,1421.0 1573.7,1420.4 1575.5,1420.9 1577.4,1420.8 1579.2,1421.7 1581.0,1420.8 1582.9,1420.9 1584.7,1420.5 1586.5,1421.4 1588.4,1420.7 1590.2,1420.8 1592.0,1420.5 1593.9,1421.1 1595.7,1421.2 1597.5,1420.0 1599.4,1420.9 1601.2,1421.3 1603.0,1421.1 1604.9,1421.3 1606.7,1420.5 1608.5,1420.0 1610.4,1421.0 1612.2,1421.7 1614.0,1420.7 1615.9,1420.3 1617.7,1420.5 1619.5,1420.4 1621.4,1421.2 1623.2,1421.2 1625.0,1421.6 1626.9,1421.8 1628.7,1420.8 1630.5,1421.2 1632.4,1420.2 1634.2,1420.7 1636.0,1421.3 1637.9,1420.8 1639.7,1420.2 1641.5,1420.6 1643.4,1421.5 1645.2,1421.1 1647.0,1420.5 1648.9,1421.1 1650.7,1421.5 1652.5,1420.8 1654.4,1421.0 1656.2,1421.6 1658.0,1421.5 1659.9,1421.5 1661.7,1421.2 1663.5,1421.1 1665.4,1420.8 1667.2,1420.8 1669.0,1421.7 1670.9,1421.3 1672.7,1420.9 1674.5,1421.0 1676.4,1420.8 1678.2,1421.4 1680.0,1421.7 1681.9,1421.1 1683.7,1421.6 1685.5,1422.3 1687.4,1421.2 1689.2,1421.5 1691.0,1421.6 1692.9,1421.9 1694.7,1422.0 1696.5,1422.0 1698.4,1421.7 1700.2,1421.3 1702.0,1422.2 1703.9,1421.4 1705.7,1421.8 1707.5,1422.0 1709.4,1421.3 1711.2,1421.4 1713.0,1422.0 1714.9,1421.0 1716.7,1421.6 1718.5,1421.5 1720.4,1421.4 1722.2,1421.0 1724.0,1421.5 1725.9,1421.2 1727.7,1421.7 1729.5,1421.3 1731.4,1421.7 1733.2,1421.8 1735.0,1421.0 1736.9,1421.3 1738.7,1421.5 1740.5,1420.8 1742.4,1421.3 1744.2,1421.9 1746.0,1421.5 1747.8,1422.0 1749.7,1421.4 1751.5,1421.1 1753.3,1421.8 1755.2,1422.0 1757.0,1421.7 1758.8,1421.7 1760.7,1422.1 1762.5,1421.7 1764.3,1422.4 1766.2,1422.2"/>
<polyline stroke="#8b97c9" points="89.0,1410.2 90.8,1400.5 92.7,1378.2 94.5,1344.4 96.3,1291.6 98.1,1246.9 100.0,1229.9 101.8,1249.3 103.6,1291.8 105.5,1335.5 107.3,1375.6 109.1,1396.6 111.0,1405.2 112.8,1408.8 114.6,1409.5 116.5,1411.5 118.3,1412.9 120.1,1411.0 122.0,1410.7 123.8,1409.6 125.6,1409.7 127.5,1407.6 129.3,1405.5 131.1,1401.5 133.0,1391.3 134.8,1365.4 136.6,1308.3 138.5,1201.9 140.3,1038.5 142.1,862.4 144.0,717.9 145.8,673.8 147.6,750.9 149.5,912.1 151.3,1091.7 153.1,1223.2 155.0,1313.4 156.8,1350.2 158.6,1350.1 160.5,1342.5 162.3,1340.4 164.1,1356.5 166.0,1363.7 167.8,1359.4 169.6,1332.7 171.5,1290.1 173.3,1234.9 175.1,1193.8 177.0,1156.3 178.8,1146.1 180.6,1172.7 182.5,1212.6 184.3,1264.6 186.1,1320.3 188.0,1351.4 189.8,1374.4 191.6,1390.3 193.5,1398.9 195.3,1397.7 197.1,1398.3 199.0,1396.6 200.8,1393.9 202.6,1394.9 204.5,1392.9 206.3,1394.2 208.1,1396.0 210.0,1398.3 211.8,1400.9 213.6,1401.9 215.5,1404.6 217.3,1406.6 219.1,1407.6 221.0,1407.2 222.8,1408.5 224.6,1408.4 226.5,1407.6 228.3,1407.9 230.1,1407.3 232.0,1407.4 233.8,1404.2 235.6,1403.5 237.5,1404.5 239.3,1405.0 241.1,1401.9 243.0,1402.7 244.8,1403.5 246.6,1402.7 248.5,1401.9 250.3,1399.9 252.1,1400.7 254.0,1397.9 255.8,1400.4 257.6,1398.8 259.5,1399.5 261.3,1394.7 263.1,1394.2 265.0,1391.0 266.8,1382.6 268.6,1371.2 270.5,1362.4 272.3,1345.8 274.1,1329.9 276.0,1309.4 277.8,1296.2 279.6,1292.5 281.4,1297.6 283.3,1308.4 285.1,1325.7 286.9,1340.8 288.8,1354.7 290.6,1375.7 292.4,1384.4 294.3,1390.5 296.1,1393.2 297.9,1397.1 299.8,1397.5 301.6,1398.4 303.4,1395.3 305.3,1393.1 307.1,1389.8 308.9,1382.2 310.8,1372.8 312.6,1362.4 314.4,1341.1 316.3,1321.0 318.1,1304.6 319.9,1287.4 321.8,1278.0 323.6,1286.9 325.4,1297.5 327.3,1304.8 329.1,1321.5 330.9,1346.2 332.8,1365.0 334.6,1376.6 336.4,1385.0 338.3,1392.7 340.1,1394.2 341.9,1397.5 343.8,1399.1 345.6,1396.3 347.4,1397.4 349.3,1396.5 351.1,1393.3 352.9,1389.2 354.8,1385.6 356.6,1377.3 358.4,1367.3 360.3,1346.8 362.1,1329.8 363.9,1318.2 365.8,1301.1 367.6,1286.7 369.4,1282.6 371.3,1281.9 373.1,1292.5 374.9,1314.2 376.8,1331.8 378.6,1350.9 380.4,1362.2 382.3,1372.3 384.1,1375.3 385.9,1384.0 387.8,1392.6 389.6,1393.4 391.4,1392.7 393.3,1395.4 395.1,1396.3 396.9,1395.9 398.8,1395.0 400.6,1395.7 402.4,1397.3 404.3,1395.3 406.1,1396.6 407.9,1397.3 409.8,1398.6 411.6,1398.2 413.4,1395.8 415.3,1398.6 417.1,1397.4 418.9,1395.5 420.8,1396.8 422.6,1396.4 424.4,1398.2 426.3,1395.3 428.1,1394.4 429.9,1395.8 431.8,1399.3 433.6,1399.3 435.4,1395.9 437.3,1393.9 439.1,1395.7 440.9,1395.0 442.8,1397.4 444.6,1397.7 446.4,1397.3 448.3,1396.6 450.1,1399.4 451.9,1396.7 453.8,1395.0 455.6,1398.5 457.4,1400.1 459.3,1397.7 461.1,1398.4 462.9,1401.5 464.7,1397.7 466.6,1397.2 468.4,1398.5 470.2,1395.0 472.1,1396.7 473.9,1399.0 475.7,1398.3 477.6,1399.6 479.4,1399.8 481.2,1398.0 483.1,1398.9 484.9,1399.3 486.7,1396.2 488.6,1396.4 490.4,1396.9 492.2,1397.4 494.1,1397.6 495.9,1396.3 497.7,1398.0 499.6,1396.1 501.4,1399.3 503.2,1399.7 505.1,1401.0 506.9,1400.1 508.7,1398.5 510.6,1396.8 512.4,1399.4 514.2,1399.5 516.1,1399.8 517.9,1400.5 519.7,1401.4 521.6,1399.9 523.4,1401.9 525.2,1400.2 527.1,1399.5 528.9,1400.6 530.7,1401.5 532.6,1402.2 534.4,1397.9 536.2,1400.9 538.1,1398.4 539.9,1398.4 541.7,1400.3 543.6,1401.9 545.4,1399.3 547.2,1397.4 549.1,1400.8 550.9,1401.2 552.7,1399.1 554.6,1399.5 556.4,1397.6 558.2,1400.5 560.1,1400.2 561.9,1402.2 563.7,1398.5 565.6,1400.9 567.4,1404.3 569.2,1402.1 571.1,1401.3 572.9,1398.5 574.7,1400.7 576.6,1401.4 578.4,1400.4 580.2,1398.9 582.1,1400.7 583.9,1400.0 585.7,1400.3 587.6,1401.7 589.4,1401.6 591.2,1401.6 593.1,1402.9 594.9,1400.5 596.7,1403.2 598.6,1400.9 600.4,1400.2 602.2,1401.7 604.1,1403.2 605.9,1402.9 607.7,1401.8 609.6,1401.2 611.4,1401.8 613.2,1401.1 615.1,1402.9 616.9,1402.7 618.7,1404.8 620.6,1402.6 622.4,1402.5 624.2,1403.6 626.1,1401.8 627.9,1401.9 629.7,1406.7 631.6,1404.6 633.4,1405.4 635.2,1402.9 637.1,1400.0 638.9,1403.4 640.7,1404.0 642.6,1404.2 644.4,1403.7 646.2,1403.2 648.0,1402.3 649.9,1405.0 651.7,1402.8 653.5,1405.0 655.4,1404.6 657.2,1403.1 659.0,1403.4 660.9,1405.7 662.7,1406.2 664.5,1405.9 666.4,1405.3 668.2,1403.8 670.0,1406.4 671.9,1405.3 673.7,1404.5 675.5,1404.6 677.4,1404.8 679.2,1403.6 681.0,1404.6 682.9,1404.6 684.7,1404.9 686.5,1403.6 688.4,1407.6 690.2,1405.4 692.0,1406.0 693.9,1406.7 695.7,1407.5 697.5,1408.9 699.4,1407.4 701.2,1407.0 703.0,1405.5 704.9,1407.0 706.7,1403.6 708.5,1402.9 710.4,1402.8 712.2,1402.1 714.0,1400.6 715.9,1399.1 717.7,1396.2 719.5,1392.8 721.4,1390.9 723.2,1391.7 725.0,1389.8 726.9,1390.2 728.7,1389.5 730.5,1387.5 732.4,1390.7 734.2,1395.1 736.0,1399.9 737.9,1402.4 739.7,1404.5 741.5,1403.1 743.4,1405.3 745.2,1406.0 747.0,1407.2 748.9,1407.2 750.7,1405.7 752.5,1407.9 754.4,1408.5 756.2,1409.0 758.0,1407.3 759.9,1408.9 761.7,1409.8 763.5,1410.1 765.4,1410.2 767.2,1408.0 769.0,1404.8 770.9,1408.0 772.7,1406.9 774.5,1406.8 776.4,1408.4 778.2,1407.8 780.0,1407.3 781.9,1407.7 783.7,1404.7 785.5,1408.2 787.4,1407.2 789.2,1406.5 791.0,1407.9 792.9,1407.7 794.7,1406.9 796.5,1407.8 798.4,1408.0 800.2,1407.9 802.0,1411.0 803.9,1408.3 805.7,1406.3 807.5,1407.5 809.4,1408.1 811.2,1410.7 813.0,1410.3 814.9,1410.6 816.7,1410.7 818.5,1409.0 820.4,1410.4 822.2,1410.3 824.0,1412.0 825.9,1410.8 827.7,1410.0 829.5,1410.8 831.3,1411.1 833.2,1408.4 835.0,1410.8 836.8,1411.7 838.7,1411.5 840.5,1409.3 842.3,1407.7 844.2,1409.3 846.0,1411.0 847.8,1411.1 849.7,1409.5 851.5,1411.1 853.3,1409.4 855.2,1408.6 857.0,1410.1 858.8,1410.0 860.7,1409.7 862.5,1408.9 864.3,1411.3 866.2,1409.9 868.0,1410.8 869.8,1411.8 871.7,1411.1 873.5,1411.1 875.3,1412.0 877.2,1413.0 879.0,1412.5 880.8,1409.9 882.7,1408.7 884.5,1409.8 886.3,1409.8 888.2,1411.3 890.0,1411.5 891.8,1411.0 893.7,1412.3 895.5,1412.7 897.3,1411.6 899.2,1411.7 901.0,1412.6 902.8,1411.5 904.7,1411.7 906.5,1410.7 908.3,1411.3 910.2,1412.0 912.0,1411.7 913.8,1411.9 915.7,1412.5 917.5,1412.4 919.3,1411.2 921.2,1411.0 923.0,1410.5 924.8,1413.2 926.7,1412.9 928.5,1412.6 930.3,1412.0 932.2,1412.5 934.0,1412.8 935.8,1411.6 937.7,1411.8 939.5,1413.3 941.3,1411.4 943.2,1410.9 945.0,1412.6 946.8,1411.8 948.7,1412.9 950.5,1411.6 952.3,1412.3 954.2,1413.4 956.0,1413.2 957.8,1413.4 959.7,1412.7 961.5,1412.4 963.3,1412.6 965.2,1413.2 967.0,1416.4 968.8,1413.9 970.7,1414.6 972.5,1413.2 974.3,1411.8 976.2,1412.3 978.0,1413.2 979.8,1413.3 981.7,1413.2 983.5,1413.6 985.3,1413.8 987.2,1414.1 989.0,1412.3 990.8,1412.8 992.7,1412.3 994.5,1413.1 996.3,1413.2 998.2,1413.4 1000.0,1412.9 1001.8,1412.4 1003.7,1412.8 1005.5,1413.9 1007.3,1414.2 1009.2,1412.0 1011.0,1413.0 1012.8,1413.6 1014.6,1411.8 1016.5,1411.4 1018.3,1411.6 1020.1,1412.2 1022.0,1409.0 1023.8,1409.1 1025.6,1408.3 1027.5,1407.6 1029.3,1407.7 1031.1,1406.4 1033.0,1402.3 1034.8,1399.8 1036.6,1399.2 1038.5,1399.8 1040.3,1400.1 1042.1,1398.6 1044.0,1400.2 1045.8,1398.4 1047.6,1398.5 1049.5,1398.1 1051.3,1401.9 1053.1,1406.5 1055.0,1409.1 1056.8,1413.5 1058.6,1412.5 1060.5,1412.1 1062.3,1411.7 1064.1,1412.3 1066.0,1412.9 1067.8,1413.5 1069.6,1413.4 1071.5,1412.8 1073.3,1414.8 1075.1,1415.1 1077.0,1415.8 1078.8,1413.5 1080.6,1413.0 1082.5,1413.6 1084.3,1415.4 1086.1,1414.8 1088.0,1414.8 1089.8,1414.7 1091.6,1414.9 1093.5,1414.4 1095.3,1415.0 1097.1,1414.2 1099.0,1414.4 1100.8,1415.1 1102.6,1415.1 1104.5,1415.3 1106.3,1414.4 1108.1,1415.0 1110.0,1414.9 1111.8,1415.3 1113.6,1416.4 1115.5,1414.8 1117.3,1415.8 1119.1,1414.9 1121.0,1414.7 1122.8,1416.5 1124.6,1416.5 1126.5,1416.0 1128.3,1416.1 1130.1,1416.5 1132.0,1415.1 1133.8,1415.4 1135.6,1415.2 1137.5,1415.7 1139.3,1415.4 1141.1,1416.0 1143.0,1415.8 1144.8,1415.1 1146.6,1415.4 1148.5,1416.0 1150.3,1416.6 1152.1,1415.8 1154.0,1415.4 1155.8,1415.8 1157.6,1416.4 1159.5,1415.5 1161.3,1413.6 1163.1,1415.3 1165.0,1415.5 1166.8,1415.3 1168.6,1417.6 1170.5,1416.2 1172.3,1416.1 1174.1,1414.6 1176.0,1415.3 1177.8,1416.1 1179.6,1415.7 1181.5,1415.0 1183.3,1415.3 1185.1,1414.8 1187.0,1415.3 1188.8,1413.9 1190.6,1411.3 1192.5,1407.6 1194.3,1405.2 1196.1,1401.3 1197.9,1392.9 1199.8,1382.2 1201.6,1366.5 1203.4,1348.0 1205.3,1327.4 1207.1,1298.1 1208.9,1263.3 1210.8,1224.2 1212.6,1183.4 1214.4,1147.2 1216.3,1118.0 1218.1,1080.9 1219.9,1062.6 1221.8,1040.6 1223.6,1036.4 1225.4,1057.6 1227.3,1069.9 1229.1,1096.4 1230.9,1138.0 1232.8,1173.0 1234.6,1211.8 1236.4,1263.0 1238.3,1293.7 1240.1,1323.4 1241.9,1348.8 1243.8,1367.1 1245.6,1384.6 1247.4,1395.7 1249.3,1403.2 1251.1,1408.1 1252.9,1410.5 1254.8,1413.7 1256.6,1415.0 1258.4,1414.4 1260.3,1415.0 1262.1,1415.2 1263.9,1417.1 1265.8,1417.0 1267.6,1416.7 1269.4,1416.3 1271.3,1416.7 1273.1,1415.8 1274.9,1416.3 1276.8,1416.5 1278.6,1416.5 1280.4,1416.1 1282.3,1416.8 1284.1,1415.9 1285.9,1416.1 1287.8,1416.5 1289.6,1416.6 1291.4,1416.3 1293.3,1415.9 1295.1,1415.8 1296.9,1416.2 1298.8,1416.0 1300.6,1416.4 1302.4,1415.8 1304.3,1416.4 1306.1,1418.2 1307.9,1416.1 1309.8,1416.0 1311.6,1417.1 1313.4,1416.3 1315.3,1416.1 1317.1,1412.9 1318.9,1412.2 1320.8,1413.1 1322.6,1409.6 1324.4,1407.2 1326.3,1401.2 1328.1,1400.1 1329.9,1399.1 1331.8,1391.3 1333.6,1385.8 1335.4,1381.4 1337.3,1380.6 1339.1,1373.2 1340.9,1366.5 1342.8,1372.4 1344.6,1368.8 1346.4,1372.3 1348.3,1370.7 1350.1,1376.8 1351.9,1384.0 1353.8,1387.2 1355.6,1392.5 1357.4,1399.2 1359.3,1402.1 1361.1,1406.7 1362.9,1411.5 1364.8,1410.3 1366.6,1413.2 1368.4,1415.4 1370.3,1415.6 1372.1,1417.5 1373.9,1418.2 1375.8,1417.8 1377.6,1417.8 1379.4,1417.5 1381.2,1416.8 1383.1,1417.7 1384.9,1417.4 1386.7,1417.2 1388.6,1418.3 1390.4,1417.8 1392.2,1418.2 1394.1,1417.0 1395.9,1416.9 1397.7,1417.1 1399.6,1417.9 1401.4,1416.9 1403.2,1416.8 1405.1,1415.4 1406.9,1415.1 1408.7,1415.4 1410.6,1413.5 1412.4,1412.6 1414.2,1413.4 1416.1,1411.8 1417.9,1412.5 1419.7,1412.9 1421.6,1412.6 1423.4,1413.6 1425.2,1414.0 1427.1,1414.2 1428.9,1413.2 1430.7,1413.5 1432.6,1415.5 1434.4,1415.2 1436.2,1416.5 1438.1,1417.0 1439.9,1416.9 1441.7,1417.5 1443.6,1416.5 1445.4,1417.7 1447.2,1419.2 1449.1,1418.0 1450.9,1418.6 1452.7,1419.0 1454.6,1420.6 1456.4,1418.8 1458.2,1418.1 1460.1,1418.2 1461.9,1418.1 1463.7,1417.7 1465.6,1418.6 1467.4,1418.4 1469.2,1419.2 1471.1,1419.4 1472.9,1418.5 1474.7,1418.6 1476.6,1419.8 1478.4,1419.2 1480.2,1419.2 1482.1,1419.7 1483.9,1419.1 1485.7,1419.4 1487.6,1420.2 1489.4,1420.2 1491.2,1418.5 1493.1,1419.8 1494.9,1419.5 1496.7,1419.0 1498.6,1418.9 1500.4,1420.0 1502.2,1419.9 1504.1,1419.5 1505.9,1419.0 1507.7,1419.7 1509.6,1420.3 1511.4,1419.2 1513.2,1418.8 1515.1,1419.2 1516.9,1419.9 1518.7,1419.5 1520.6,1419.5 1522.4,1419.2 1524.2,1420.2 1526.1,1419.9 1527.9,1419.8 1529.7,1420.3 1531.6,1419.8 1533.4,1419.7 1535.2,1420.0 1537.1,1419.6 1538.9,1420.4 1540.7,1420.1 1542.6,1419.6 1544.4,1419.6 1546.2,1419.2 1548.1,1420.3 1549.9,1420.8 1551.7,1420.0 1553.6,1419.6 1555.4,1418.7 1557.2,1419.2 1559.1,1420.2 1560.9,1419.6 1562.7,1420.2 1564.5,1420.8 1566.4,1418.9 1568.2,1419.3 1570.0,1419.5 1571.9,1419.6 1573.7,1419.0 1575.5,1419.5 1577.4,1419.3 1579.2,1420.3 1581.0,1420.9 1582.9,1419.5 1584.7,1419.1 1586.5,1419.5 1588.4,1419.9 1590.2,1419.9 1592.0,1420.4 1593.9,1419.4 1595.7,1419.5 1597.5,1419.7 1599.4,1419.8 1601.2,1419.5 1603.0,1419.7 1604.9,1419.7 1606.7,1420.6 1608.5,1420.1 1610.4,1419.0 1612.2,1420.1 1614.0,1420.3 1615.9,1419.8 1617.7,1419.6 1619.5,1419.8 1621.4,1420.9 1623.2,1420.3 1625.0,1420.7 1626.9,1420.8 1628.7,1420.1 1630.5,1420.3 1632.4,1420.0 1634.2,1418.7 1636.0,1419.5 1637.9,1419.9 1639.7,1420.6 1641.5,1420.8 1643.4,1421.0 1645.2,1420.8 1647.0,1421.0 1648.9,1420.9 1650.7,1420.6 1652.5,1420.9 1654.4,1421.2 1656.2,1421.3 1658.0,1420.4 1659.9,1420.4 1661.7,1420.0 1663.5,1419.8 1665.4,1420.5 1667.2,1420.2 1669.0,1421.1 1670.9,1419.7 1672.7,1419.6 1674.5,1420.5 1676.4,1421.1 1678.2,1420.6 1680.0,1421.3 1681.9,1421.2 1683.7,1420.4 1685.5,1420.5 1687.4,1420.8 1689.2,1420.3 1691.0,1420.9 1692.9,1420.7 1694.7,1420.8 1696.5,1421.1 1698.4,1420.6 1700.2,1421.0 1702.0,1420.0 1703.9,1420.7 1705.7,1419.9 1707.5,1420.9 1709.4,1420.6 1711.2,1421.2 1713.0,1421.5 1714.9,1420.9 1716.7,1420.5 1718.5,1421.2 1720.4,1420.5 1722.2,1421.0 1724.0,1420.9 1725.9,1420.6 1727.7,1420.5 1729.5,1421.5 1731.4,1420.4 1733.2,1420.4 1735.0,1421.0 1736.9,1421.4 1738.7,1421.7 1740.5,1421.7 1742.4,1420.9 1744.2,1421.0 1746.0,1421.5 1747.8,1421.3 1749.7,1420.4 1751.5,1420.9 1753.3,1421.3 1755.2,1420.5 1757.0,1420.6 1758.8,1420.9 1760.7,1421.3 1762.5,1421.7 1764.3,1421.7 1766.2,1421.4"/>
<polyline stroke="#6bb3d6" points="89.0,1413.7 90.8,1406.3 92.7,1391.5 94.5,1367.1 96.3,1334.7 98.1,1308.7 100.0,1300.9 101.8,1307.1 103.6,1334.6 105.5,1366.1 107.3,1390.0 109.1,1405.6 111.0,1412.1 112.8,1413.4 114.6,1413.6 116.5,1414.3 118.3,1413.5 120.1,1413.6 122.0,1414.2 123.8,1412.9 125.6,1409.9 127.5,1410.7 129.3,1407.9 131.1,1403.2 133.0,1393.7 134.8,1376.0 136.6,1323.2 138.5,1237.8 140.3,1111.8 142.1,961.2 144.0,842.7 145.8,806.7 147.6,870.2 149.5,995.4 151.3,1151.0 153.1,1271.2 155.0,1337.6 156.8,1372.0 158.6,1385.0 160.5,1392.6 162.3,1392.2 164.1,1393.1 166.0,1390.1 167.8,1388.9 169.6,1377.0 171.5,1360.3 173.3,1343.3 175.1,1321.7 177.0,1300.1 178.8,1299.2 180.6,1309.9 182.5,1323.2 184.3,1343.8 186.1,1364.9 188.0,1384.5 189.8,1394.6 191.6,1398.4 193.5,1402.8 195.3,1404.1 197.1,1401.2 199.0,1397.8 200.8,1399.3 202.6,1401.0 204.5,1399.0 206.3,1397.8 208.1,1397.6 210.0,1398.4 211.8,1401.7 213.6,1405.2 215.5,1406.2 217.3,1408.3 219.1,1408.4 221.0,1409.0 222.8,1405.5 224.6,1406.3 226.5,1408.7 228.3,1409.4 230.1,1408.6 232.0,1409.5 233.8,1408.6 235.6,1408.0 237.5,1405.7 239.3,1406.2 241.1,1406.7 243.0,1407.1 244.8,1406.7 246.6,1404.7 248.5,1403.9 250.3,1401.6 252.1,1402.6 254.0,1400.3 255.8,1399.6 257.6,1398.9 259.5,1399.7 261.3,1395.4 263.1,1383.4 265.0,1365.6 266.8,1342.2 268.6,1302.3 270.5,1251.2 272.3,1185.2 274.1,1112.9 276.0,1035.7 277.8,986.2 279.6,970.5 281.4,985.5 283.3,1028.9 285.1,1095.4 286.9,1175.1 288.8,1234.8 290.6,1294.0 292.4,1337.5 294.3,1361.6 296.1,1378.4 297.9,1390.0 299.8,1394.2 301.6,1398.3 303.4,1398.7 305.3,1399.7 307.1,1392.0 308.9,1389.9 310.8,1378.8 312.6,1368.7 314.4,1356.2 316.3,1338.9 318.1,1321.9 319.9,1308.8 321.8,1298.7 323.6,1302.9 325.4,1310.5 327.3,1327.0 329.1,1339.9 330.9,1355.6 332.8,1370.8 334.6,1381.0 336.4,1388.2 338.3,1392.6 340.1,1395.0 341.9,1397.6 343.8,1398.6 345.6,1395.7 347.4,1396.2 349.3,1390.7 351.1,1376.0 352.9,1365.9 354.8,1336.0 356.6,1285.1 358.4,1229.8 360.3,1133.5 362.1,1060.3 363.9,955.2 365.8,871.3 367.6,813.2 369.4,792.0 371.3,811.7 373.1,867.9 374.9,949.6 376.8,1047.1 378.6,1135.3 380.4,1205.3 382.3,1272.0 384.1,1314.1 385.9,1340.2 387.8,1361.5 389.6,1368.6 391.4,1376.6 393.3,1386.3 395.1,1389.1 396.9,1392.9 398.8,1395.7 400.6,1396.3 402.4,1398.4 404.3,1397.2 406.1,1399.4 407.9,1398.2 409.8,1399.1 411.6,1398.5 413.4,1400.2 415.3,1401.0 417.1,1402.0 418.9,1400.0 420.8,1398.8 422.6,1397.1 424.4,1397.8 426.3,1399.8 428.1,1401.0 429.9,1400.5 431.8,1400.9 433.6,1399.1 435.4,1399.2 437.3,1402.0 439.1,1402.7 440.9,1399.9 442.8,1400.5 444.6,1401.8 446.4,1400.2 448.3,1401.7 450.1,1402.3 451.9,1402.6 453.8,1404.8 455.6,1401.7 457.4,1403.3 459.3,1403.5 461.1,1403.5 462.9,1401.7 464.7,1402.1 466.6,1402.5 468.4,1404.7 470.2,1403.5 472.1,1404.7 473.9,1403.0 475.7,1402.2 477.6,1402.7 479.4,1400.3 481.2,1401.4 483.1,1402.1 484.9,1402.7 486.7,1403.4 488.6,1402.1 490.4,1401.5 492.2,1404.7 494.1,1402.7 495.9,1402.5 497.7,1402.2 499.6,1402.7 501.4,1405.2 503.2,1405.9 505.1,1402.1 506.9,1402.9 508.7,1405.8 510.6,1404.3 512.4,1404.5 514.2,1406.8 516.1,1408.0 517.9,1407.4 519.7,1404.8 521.6,1404.5 523.4,1404.9 525.2,1404.4 527.1,1403.8 528.9,1407.1 530.7,1406.1 532.6,1406.0 534.4,1406.8 536.2,1406.2 538.1,1405.4 539.9,1405.5 541.7,1407.1 543.6,1406.4 545.4,1403.0 547.2,1405.8 549.1,1407.9 550.9,1405.8 552.7,1404.7 554.6,1404.7 556.4,1406.8 558.2,1404.9 560.1,1406.3 561.9,1407.5 563.7,1407.0 565.6,1406.3 567.4,1405.1 569.2,1405.0 571.1,1405.9 572.9,1405.0 574.7,1405.7 576.6,1405.1 578.4,1407.6 580.2,1408.8 582.1,1406.1 583.9,1407.8 585.7,1407.4 587.6,1406.8 589.4,1407.3 591.2,1407.4 593.1,1405.3 594.9,1409.3 596.7,1406.8 598.6,1403.9 600.4,1406.1 602.2,1407.1 604.1,1406.3 605.9,1404.8 607.7,1407.9 609.6,1407.7 611.4,1407.5 613.2,1406.8 615.1,1407.1 616.9,1406.7 618.7,1407.8 620.6,1407.7 622.4,1408.4 624.2,1408.8 626.1,1408.2 627.9,1408.1 629.7,1409.3 631.6,1406.7 633.4,1407.6 635.2,1409.7 637.1,1407.4 638.9,1408.6 640.7,1408.0 642.6,1408.2 644.4,1408.1 646.2,1408.2 648.0,1409.1 649.9,1408.7 651.7,1406.4 653.5,1410.4 655.4,1409.5 657.2,1408.3 659.0,1409.9 660.9,1410.8 662.7,1407.1 664.5,1408.6 666.4,1407.0 668.2,1407.8 670.0,1408.9 671.9,1408.7 673.7,1408.5 675.5,1407.9 677.4,1408.5 679.2,1409.2 681.0,1409.3 682.9,1408.1 684.7,1408.3 686.5,1410.5 688.4,1410.7 690.2,1409.6 692.0,1410.3 693.9,1410.4 695.7,1410.9 697.5,1410.2 699.4,1409.1 701.2,1407.9 703.0,1408.2 704.9,1405.4 706.7,1405.9 708.5,1400.9 710.4,1399.9 712.2,1398.5 714.0,1396.7 715.9,1397.1 717.7,1390.0 719.5,1383.9 721.4,1376.8 723.2,1379.5 725.0,1373.7 726.9,1375.8 728.7,1376.7 730.5,1384.9 732.4,1385.3 734.2,1388.5 736.0,1391.3 737.9,1395.7 739.7,1401.4 741.5,1402.1 743.4,1404.0 745.2,1406.1 747.0,1407.1 748.9,1407.8 750.7,1409.5 752.5,1411.7 754.4,1412.4 756.2,1409.8 758.0,1409.6 759.9,1410.5 761.7,1411.3 763.5,1410.9 765.4,1410.7 767.2,1411.0 769.0,1411.3 770.9,1408.3 772.7,1409.0 774.5,1410.3 776.4,1411.0 778.2,1410.4 780.0,1408.3 781.9,1407.6 783.7,1408.5 785.5,1408.6 787.4,1409.0 789.2,1410.3 791.0,1408.2 792.9,1408.7 794.7,1407.2 796.5,1410.3 798.4,1411.1 800.2,1410.1 802.0,1411.2 803.9,1412.9 805.7,1413.0 807.5,1411.9 809.4,1411.4 811.2,1411.8 813.0,1410.9 814.9,1410.7 816.7,1411.3 818.5,1411.9 820.4,1412.3 822.2,1411.6 824.0,1411.1 825.9,1411.8 827.7,1411.7 829.5,1412.4 831.3,1413.7 833.2,1413.7 835.0,1411.9 836.8,1411.7 838.7,1410.8 840.5,1411.9 842.3,1411.7 844.2,1411.0 846.0,1411.2 847.8,1412.9 849.7,1413.0 851.5,1412.6 853.3,1413.6 855.2,1412.6 857.0,1411.7 858.8,1412.9 860.7,1411.2 862.5,1412.6 864.3,1413.2 866.2,1413.2 868.0,1413.7 869.8,1412.9 871.7,1412.9 873.5,1411.6 875.3,1412.1 877.2,1412.5 879.0,1413.3 880.8,1414.6 882.7,1413.8 884.5,1414.1 886.3,1412.8 888.2,1413.1 890.0,1411.9 891.8,1412.3 893.7,1412.5 895.5,1413.1 897.3,1413.3 899.2,1413.0 901.0,1412.6 902.8,1414.0 904.7,1413.5 906.5,1411.3 908.3,1413.1 910.2,1414.1 912.0,1414.6 913.8,1415.4 915.7,1413.3 917.5,1413.6 919.3,1413.7 921.2,1412.4 923.0,1411.4 924.8,1414.2 926.7,1413.5 928.5,1413.4 930.3,1413.7 932.2,1413.7 934.0,1414.2 935.8,1413.0 937.7,1413.4 939.5,1413.9 941.3,1413.3 943.2,1413.4 945.0,1413.9 946.8,1414.1 948.7,1413.0 950.5,1413.7 952.3,1414.6 954.2,1415.4 956.0,1415.3 957.8,1415.7 959.7,1415.0 961.5,1414.6 963.3,1416.5 965.2,1415.5 967.0,1414.4 968.8,1414.6 970.7,1415.7 972.5,1414.2 974.3,1415.2 976.2,1416.2 978.0,1416.3 979.8,1415.4 981.7,1414.3 983.5,1413.9 985.3,1414.6 987.2,1416.1 989.0,1416.0 990.8,1416.1 992.7,1415.6 994.5,1416.7 996.3,1415.6 998.2,1414.7 1000.0,1415.2 1001.8,1414.9 1003.7,1415.9 1005.5,1416.7 1007.3,1416.2 1009.2,1414.6 1011.0,1414.2 1012.8,1415.4 1014.6,1414.4 1016.5,1415.1 1018.3,1413.9 1020.1,1414.1 1022.0,1414.9 1023.8,1413.8 1025.6,1414.4 1027.5,1414.5 1029.3,1414.5 1031.1,1412.4 1033.0,1411.5 1034.8,1411.1 1036.6,1410.9 1038.5,1408.7 1040.3,1409.8 1042.1,1410.8 1044.0,1409.1 1045.8,1408.6 1047.6,1410.2 1049.5,1413.3 1051.3,1413.5 1053.1,1412.6 1055.0,1413.4 1056.8,1412.8 1058.6,1415.4 1060.5,1414.8 1062.3,1415.6 1064.1,1414.6 1066.0,1415.4 1067.8,1415.0 1069.6,1416.1 1071.5,1417.2 1073.3,1417.2 1075.1,1416.7 1077.0,1417.0 1078.8,1415.4 1080.6,1414.7 1082.5,1415.5 1084.3,1416.8 1086.1,1416.5 1088.0,1416.7 1089.8,1415.2 1091.6,1415.6 1093.5,1415.7 1095.3,1416.4 1097.1,1417.9 1099.0,1417.3 1100.8,1417.3 1102.6,1416.3 1104.5,1416.1 1106.3,1416.9 1108.1,1416.8 1110.0,1415.3 1111.8,1416.7 1113.6,1417.3 1115.5,1416.8 1117.3,1417.0 1119.1,1416.9 1121.0,1416.2 1122.8,1415.1 1124.6,1417.4 1126.5,1417.0 1128.3,1416.5 1130.1,1416.6 1132.0,1416.7 1133.8,1416.9 1135.6,1416.0 1137.5,1416.7 1139.3,1416.9 1141.1,1416.7 1143.0,1416.6 1144.8,1416.8 1146.6,1416.0 1148.5,1416.5 1150.3,1416.6 1152.1,1416.8 1154.0,1417.5 1155.8,1417.6 1157.6,1417.8 1159.5,1416.9 1161.3,1417.3 1163.1,1417.8 1165.0,1416.9 1166.8,1416.4 1168.6,1418.0 1170.5,1416.0 1172.3,1416.4 1174.1,1416.8 1176.0,1416.0 1177.8,1416.4 1179.6,1417.1 1181.5,1415.1 1183.3,1416.7 1185.1,1416.6 1187.0,1415.4 1188.8,1416.2 1190.6,1415.3 1192.5,1413.5 1194.3,1409.7 1196.1,1409.6 1197.9,1406.1 1199.8,1399.3 1201.6,1392.2 1203.4,1384.8 1205.3,1369.7 1207.1,1353.2 1208.9,1333.9 1210.8,1310.5 1212.6,1287.6 1214.4,1267.5 1216.3,1247.8 1218.1,1236.2 1219.9,1221.6 1221.8,1211.9 1223.6,1213.7 1225.4,1218.7 1227.3,1234.0 1229.1,1242.9 1230.9,1258.4 1232.8,1289.1 1234.6,1311.6 1236.4,1333.7 1238.3,1349.4 1240.1,1366.7 1241.9,1381.3 1243.8,1392.4 1245.6,1399.9 1247.4,1406.8 1249.3,1409.3 1251.1,1412.8 1252.9,1413.9 1254.8,1415.1 1256.6,1415.2 1258.4,1416.3 1260.3,1416.1 1262.1,1417.5 1263.9,1417.0 1265.8,1417.3 1267.6,1417.3 1269.4,1417.4 1271.3,1416.9 1273.1,1418.7 1274.9,1417.9 1276.8,1418.6 1278.6,1417.2 1280.4,1418.8 1282.3,1418.9 1284.1,1419.1 1285.9,1417.1 1287.8,1418.3 1289.6,1418.0 1291.4,1418.2 1293.3,1419.2 1295.1,1418.5 1296.9,1417.5 1298.8,1417.9 1300.6,1417.3 1302.4,1417.9 1304.3,1417.9 1306.1,1418.1 1307.9,1417.7 1309.8,1416.4 1311.6,1417.0 1313.4,1417.2 1315.3,1417.5 1317.1,1417.4 1318.9,1415.2 1320.8,1415.7 1322.6,1415.2 1324.4,1413.0 1326.3,1411.2 1328.1,1406.6 1329.9,1408.2 1331.8,1404.0 1333.6,1399.6 1335.4,1399.4 1337.3,1397.4 1339.1,1393.6 1340.9,1389.9 1342.8,1392.8 1344.6,1395.6 1346.4,1392.9 1348.3,1392.5 1350.1,1397.3 1351.9,1403.4 1353.8,1401.9 1355.6,1405.3 1357.4,1407.0 1359.3,1410.1 1361.1,1412.8 1362.9,1414.5 1364.8,1414.2 1366.6,1414.8 1368.4,1418.2 1370.3,1418.7 1372.1,1416.9 1373.9,1418.0 1375.8,1419.2 1377.6,1418.7 1379.4,1418.6 1381.2,1418.6 1383.1,1418.9 1384.9,1418.9 1386.7,1419.0 1388.6,1418.5 1390.4,1419.0 1392.2,1418.9 1394.1,1418.6 1395.9,1417.6 1397.7,1417.7 1399.6,1418.0 1401.4,1417.5 1403.2,1417.1 1405.1,1416.3 1406.9,1416.1 1408.7,1414.8 1410.6,1414.4 1412.4,1415.2 1414.2,1415.5 1416.1,1414.3 1417.9,1414.1 1419.7,1414.6 1421.6,1416.1 1423.4,1416.9 1425.2,1415.6 1427.1,1415.1 1428.9,1415.4 1430.7,1417.4 1432.6,1416.7 1434.4,1417.7 1436.2,1417.8 1438.1,1417.9 1439.9,1418.9 1441.7,1419.3 1443.6,1420.3 1445.4,1420.0 1447.2,1420.4 1449.1,1419.3 1450.9,1419.2 1452.7,1418.8 1454.6,1419.0 1456.4,1419.7 1458.2,1419.3 1460.1,1419.6 1461.9,1419.2 1463.7,1419.2 1465.6,1420.0 1467.4,1419.7 1469.2,1419.5 1471.1,1419.7 1472.9,1419.2 1474.7,1418.5 1476.6,1419.5 1478.4,1419.9 1480.2,1420.9 1482.1,1420.1 1483.9,1419.9 1485.7,1420.9 1487.6,1420.0 1489.4,1419.4 1491.2,1420.0 1493.1,1420.1 1494.9,1420.4 1496.7,1419.6 1498.6,1420.5 1500.4,1420.3 1502.2,1418.9 1504.1,1419.5 1505.9,1419.7 1507.7,1419.9 1509.6,1420.6 1511.4,1420.2 1513.2,1419.8 1515.1,1420.4 1516.9,1420.0 1518.7,1419.3 1520.6,1419.3 1522.4,1420.6 1524.2,1420.8 1526.1,1421.0 1527.9,1419.8 1529.7,1419.6 1531.6,1419.6 1533.4,1420.4 1535.2,1420.8 1537.1,1420.3 1538.9,1420.1 1540.7,1420.5 1542.6,1420.2 1544.4,1419.8 1546.2,1420.0 1548.1,1420.7 1549.9,1421.4 1551.7,1420.7 1553.6,1420.2 1555.4,1420.3 1557.2,1420.5 1559.1,1420.6 1560.9,1420.0 1562.7,1420.2 1564.5,1420.2 1566.4,1420.7 1568.2,1420.7 1570.0,1420.3 1571.9,1420.8 1573.7,1421.1 1575.5,1420.7 1577.4,1419.8 1579.2,1420.1 1581.0,1419.7 1582.9,1420.2 1584.7,1420.6 1586.5,1421.1 1588.4,1420.9 1590.2,1419.8 1592.0,1420.1 1593.9,1420.1 1595.7,1420.0 1597.5,1420.4 1599.4,1420.6 1601.2,1420.5 1603.0,1420.2 1604.9,1420.2 1606.7,1420.2 1608.5,1420.4 1610.4,1420.9 1612.2,1420.8 1614.0,1421.0 1615.9,1420.3 1617.7,1421.4 1619.5,1421.0 1621.4,1419.6 1623.2,1420.4 1625.0,1421.2 1626.9,1420.8 1628.7,1420.1 1630.5,1420.5 1632.4,1420.4 1634.2,1420.5 1636.0,1420.8 1637.9,1419.4 1639.7,1420.2 1641.5,1420.9 1643.4,1421.0 1645.2,1420.6 1647.0,1420.5 1648.9,1420.4 1650.7,1420.6 1652.5,1421.4 1654.4,1420.8 1656.2,1420.9 1658.0,1421.0 1659.9,1421.5 1661.7,1421.3 1663.5,1421.2 1665.4,1421.0 1667.2,1421.5 1669.0,1421.0 1670.9,1420.8 1672.7,1421.3 1674.5,1421.3 1676.4,1421.4 1678.2,1420.7 1680.0,1421.8 1681.9,1421.4 1683.7,1421.7 1685.5,1421.4 1687.4,1420.7 1689.2,1421.1 1691.0,1421.0 1692.9,1421.3 1694.7,1420.3 1696.5,1420.4 1698.4,1420.5 1700.2,1421.4 1702.0,1421.7 1703.9,1420.8 1705.7,1421.0 1707.5,1421.2 1709.4,1421.0 1711.2,1421.6 1713.0,1421.0 1714.9,1421.0 1716.7,1420.9 1718.5,1421.3 1720.4,1421.0 1722.2,1421.4 1724.0,1420.9 1725.9,1420.6 1727.7,1420.7 1729.5,1420.9 1731.4,1420.9 1733.2,1422.2 1735.0,1421.3 1736.9,1421.2 1738.7,1421.3 1740.5,1421.4 1742.4,1421.8 1744.2,1421.7 1746.0,1421.1 1747.8,1420.7 1749.7,1421.4 1751.5,1421.7 1753.3,1420.9 1755.2,1421.5 1757.0,1420.7 1758.8,1421.1 1760.7,1421.7 1762.5,1421.1 1764.3,1420.7 1766.2,1421.7"/>
</g>
<path d="M122.6 1422.7v8M159.3 1422.7v8M195.9 1422.7v8M232.6 1422.7v13M269.3 1422.7v8M305.9 1422.7v8M342.6 1422.7v8M379.2 1422.7v8M415.9 1422.7v13M452.6 1422.7v8M489.2 1422.7v8M525.9 1422.7v8M562.5 1422.7v8M599.2 1422.7v13M635.9 1422.7v8M672.5 1422.7v8M709.2 1422.7v8M745.8 1422.7v8M782.5 1422.7v13M819.2 1422.7v8M855.8 1422.7v8M892.5 1422.7v8M929.1 1422.7v8M965.8 1422.7v13M1002.5 1422.7v8M1039.1 1422.7v8M1075.8 1422.7v8M1112.4 1422.7v8M1149.1 1422.7v13M1185.8 1422.7v8M1222.4 1422.7v8M1259.1 1422.7v8M1295.7 1422.7v8M1332.4 1422.7v13M1369.1 1422.7v8M1405.7 1422.7v8M1442.4 1422.7v8M1479.0 1422.7v8M1515.7 1422.7v13M1552.4 1422.7v8M1589.0 1422.7v8M1625.7 1422.7v8M1662.3 1422.7v8M1699.0 1422.7v13M1735.7 1422.7v8M89.0 1422.9h-9M89.0 1386.7h-9M89.0 1350.5h-9M89.0 1314.3h-9M89.0 1278.0h-9M89.0 1241.8h-9M89.0 1205.6h-9M89.0 1169.4h-9M89.0 1133.2h-9M89.0 1097.0h-9M89.0 1060.8h-9M89.0 1024.5h-9M89.0 988.3h-9M89.0 952.1h-9M89.0 915.9h-9M89.0 879.7h-9M89.0 843.5h-9M89.0 807.2h-9M89.0 771.0h-9M89.0 734.8h-9M89.0 698.6h-9M89.0 662.4h-9M89.0 626.2h-9M89.0 590.0h-9M89.0 553.7h-9M89.0 517.5h-9M89.0 481.3h-9M89.0 445.1h-9M89.0 408.9h-9M89.0 372.7h-9M89.0 336.5h-9M89.0 300.2h-9M89.0 264.0h-9M89.0 227.8h-9M89.0 191.6h-9M89.0 155.4h-9M89.0 119.2h-9M89.0 82.9h-9" stroke="#a2a2a2" stroke-width="1.9" fill="none"/>
<g font-family="'Liberation Sans', sans-serif" fill="#454545" font-size="27.6px">
<text transform="translate(232.6 1465.6) scale(1.04 1)" text-anchor="middle">1</text>
<text transform="translate(415.9 1465.6) scale(1.04 1)" text-anchor="middle">2</text>
<text transform="translate(599.2 1465.6) scale(1.04 1)" text-anchor="middle">3</text>
<text transform="translate(782.5 1465.6) scale(1.04 1)" text-anchor="middle">4</text>
<text transform="translate(965.8 1465.6) scale(1.04 1)" text-anchor="middle">5</text>
<text transform="translate(1149.1 1465.6) scale(1.04 1)" text-anchor="middle">6</text>
<text transform="translate(1332.4 1465.6) scale(1.04 1)" text-anchor="middle">7</text>
<text transform="translate(1515.7 1465.6) scale(1.04 1)" text-anchor="middle">8</text>
<text transform="translate(1699.0 1465.6) scale(1.04 1)" text-anchor="middle">9</text>
<text transform="translate(70.3 1433.3) scale(1.06 1)" text-anchor="end">0</text>
<text transform="translate(70.3 1288.4) scale(1.06 1)" text-anchor="end">2</text>
<text transform="translate(70.3 1143.6) scale(1.06 1)" text-anchor="end">4</text>
<text transform="translate(70.3 998.7) scale(1.06 1)" text-anchor="end">6</text>
<text transform="translate(70.3 853.9) scale(1.06 1)" text-anchor="end">8</text>
<text transform="translate(70.3 709.0) scale(1.06 1)" text-anchor="end">10</text>
<text transform="translate(70.3 564.1) scale(1.06 1)" text-anchor="end">12</text>
<text transform="translate(70.3 419.3) scale(1.06 1)" text-anchor="end">14</text>
<text transform="translate(70.3 274.4) scale(1.06 1)" text-anchor="end">16</text>
<text transform="translate(70.3 129.6) scale(1.06 1)" text-anchor="end">18</text>
<text x="96" y="47.5" font-size="28.5px" textLength="88" lengthAdjust="spacingAndGlyphs">cps/eV</text>
<text x="839.5" y="1503" font-size="28.5px" textLength="173" lengthAdjust="spacingAndGlyphs">Energie [keV]</text>
</g>
<g clip-path="url(#pc)" font-family="'DejaVu Sans Light', 'DejaVu Sans', 'Liberation Sans', sans-serif" font-weight="200" font-size="26.5px">
<rect x="126.7" y="610.3" width="40.4" height="44.9" fill="#3ff9f2" fill-opacity="0.92"/>
<text x="142.2" y="639.8" textLength="17.6" lengthAdjust="spacingAndGlyphs" fill="rgba(10,20,10,0.85)">O</text>
<rect x="117.1" y="909.1" width="48.0" height="43.9" fill="#9c40ff" fill-opacity="0.92"/>
<text x="131.4" y="938.7" textLength="27.1" lengthAdjust="spacingAndGlyphs" fill="#ffffff">Cr</text>
<rect x="155.8" y="1089.0" width="49.3" height="43.3" fill="#ff409d" fill-opacity="0.92"/>
<text x="169.0" y="1118.5" textLength="29.0" lengthAdjust="spacingAndGlyphs" fill="rgba(10,20,10,0.85)">Fe</text>
<rect x="89.7" y="1185.9" width="29.0" height="41.6" fill="#4242f2" fill-opacity="0.92"/>
<text x="97.3" y="1214.2" textLength="17.3" lengthAdjust="spacingAndGlyphs" fill="#ffffff">C</text>
<rect x="89.7" y="1289.0" width="41.3" height="43.0" fill="#40f79c" fill-opacity="0.92"/>
<text x="93.0" y="1318.5" textLength="32.5" lengthAdjust="spacingAndGlyphs" fill="rgba(10,20,10,0.85)">Ca</text>
<rect x="182.3" y="1336.4" width="47.0" height="44.2" fill="#9bff3c" fill-opacity="0.92"/>
<text x="197.0" y="1366.0" textLength="24.0" lengthAdjust="spacingAndGlyphs" fill="rgba(10,20,10,0.85)">Ni</text>
<rect x="249.2" y="1239.0" width="61.5" height="43.5" fill="#ff40ff" fill-opacity="0.92"/>
<text x="263.0" y="1268.0" textLength="42.0" lengthAdjust="spacingAndGlyphs" fill="rgba(10,20,10,0.85)">Mg</text>
<rect x="300.5" y="1195.0" width="44.5" height="43.0" fill="#ffff40" fill-opacity="0.92"/>
<text x="314.0" y="1224.0" textLength="23.0" lengthAdjust="spacingAndGlyphs" fill="rgba(10,20,10,0.85)">Al</text>
<rect x="349.4" y="1230.5" width="39.5" height="44.0" fill="#ff9c40" fill-opacity="0.92"/>
<text x="362.5" y="1260.0" textLength="18.5" lengthAdjust="spacingAndGlyphs" fill="rgba(10,20,10,0.85)">Si</text>
<rect x="700.9" y="1335.3" width="51.8" height="43.4" fill="#40f79c" fill-opacity="0.92"/>
<text x="715.0" y="1364.5" textLength="32.0" lengthAdjust="spacingAndGlyphs" fill="rgba(10,20,10,0.85)">Ca</text>
<rect x="1019.4" y="1342.9" width="47.4" height="44.1" fill="#9c40ff" fill-opacity="0.92"/>
<text x="1033.0" y="1372.0" textLength="27.0" lengthAdjust="spacingAndGlyphs" fill="#ffffff">Cr</text>
<rect x="1199.3" y="986.7" width="49.6" height="43.9" fill="#ff409d" fill-opacity="0.92"/>
<text x="1213.0" y="1016.0" textLength="28.0" lengthAdjust="spacingAndGlyphs" fill="rgba(10,20,10,0.85)">Fe</text>
<rect x="1399.3" y="1357.6" width="45.7" height="42.8" fill="#9bff3c" fill-opacity="0.92"/>
<text x="1413.0" y="1387.0" textLength="25.0" lengthAdjust="spacingAndGlyphs" fill="rgba(10,20,10,0.85)">Ni</text>
</g>
<defs>
<radialGradient id="sg" gradientUnits="userSpaceOnUse" cx="1338" cy="340" r="258" fx="1325" fy="350">
<stop offset="0" stop-color="#a0a0a0"/><stop offset="0.5" stop-color="#8c8c8c"/><stop offset="0.8" stop-color="#707070"/><stop offset="0.94" stop-color="#585858"/><stop offset="1" stop-color="#3a3a3a"/>
</radialGradient>
<radialGradient id="topsh" gradientUnits="userSpaceOnUse" cx="1345" cy="120" r="190">
<stop offset="0" stop-color="#000" stop-opacity="0.16"/><stop offset="1" stop-color="#000" stop-opacity="0"/>
</radialGradient>
<clipPath id="sph"><path d="M1317.4 80.8C1334.6 80.0 1360.2 81.2 1380.0 84.5C1399.8 87.8 1418.5 93.0 1436.0 100.5C1453.5 108.0 1469.3 117.9 1485.3 129.5C1501.2 141.1 1519.2 156.5 1531.7 170.0C1544.2 183.5 1552.9 195.1 1560.6 210.5C1568.3 225.9 1574.1 244.3 1578.0 262.7C1581.9 281.1 1583.6 305.7 1583.8 320.6C1584.0 335.5 1580.9 341.5 1579.0 352.0C1577.1 362.5 1575.3 373.3 1572.2 383.4C1569.1 393.5 1565.9 400.3 1560.6 412.4C1555.3 424.5 1549.0 440.9 1540.3 455.8C1531.6 470.8 1521.0 488.6 1508.5 502.1C1496.0 515.6 1479.5 526.2 1465.0 536.9C1450.5 547.5 1435.8 557.9 1421.6 566.0C1407.4 574.1 1392.4 581.8 1380.0 585.5C1367.6 589.2 1359.6 589.4 1347.2 588.5C1334.8 587.6 1318.0 583.1 1305.5 580.4C1293.0 577.7 1283.2 575.1 1272.1 572.1C1261.0 569.1 1248.5 566.0 1238.7 562.1C1229.0 558.2 1220.8 553.4 1213.6 548.7C1206.4 544.0 1200.9 539.6 1195.3 533.7C1189.7 527.9 1184.9 520.3 1180.2 513.6C1175.5 506.9 1171.4 500.3 1166.9 493.6C1162.5 486.9 1158.8 480.7 1153.5 473.5C1148.2 466.3 1140.9 457.4 1135.1 450.2C1129.2 443.0 1122.6 437.6 1118.4 430.1C1114.2 422.6 1112.6 413.4 1110.1 405.0C1107.6 396.6 1105.2 389.4 1103.4 380.0C1101.6 370.6 1100.5 362.0 1099.5 348.7C1098.5 335.4 1097.2 313.9 1097.4 300.0C1097.6 286.1 1098.1 276.1 1100.5 265.0C1102.9 253.9 1105.6 246.6 1111.8 233.7C1118.0 220.8 1127.3 201.9 1137.9 187.4C1148.5 172.9 1162.0 158.5 1175.5 146.9C1189.0 135.3 1202.1 127.6 1219.0 117.9C1235.9 108.2 1260.5 95.2 1276.9 89.0C1293.3 82.8 1300.2 81.5 1317.4 80.8Z"/></clipPath>
<filter id="soft14" x="-0.4" y="-0.4" width="1.8" height="1.8"><feGaussianBlur stdDeviation="14"/></filter>
<filter id="soft6" x="-0.3" y="-0.3" width="1.6" height="1.6"><feGaussianBlur stdDeviation="6"/></filter>
<filter id="soft4" x="-0.3" y="-0.3" width="1.6" height="1.6"><feGaussianBlur stdDeviation="4"/></filter>
<filter id="soft05" filterUnits="userSpaceOnUse" x="1090" y="75" width="500" height="520"><feTurbulence type="fractalNoise" baseFrequency="0.06" numOctaves="2" seed="8" result="w"/><feDisplacementMap in="SourceGraphic" in2="w" scale="7" xChannelSelector="R" yChannelSelector="G" result="d"/><feGaussianBlur in="d" stdDeviation="0.6"/></filter>
<filter id="soft2" x="-0.5" y="-0.5" width="2" height="2"><feGaussianBlur stdDeviation="1.6"/></filter>
<filter id="spk" filterUnits="userSpaceOnUse" x="1090" y="75" width="500" height="520" color-interpolation-filters="sRGB">
<feGaussianBlur in="SourceGraphic" stdDeviation="5" result="m"/>
<feTurbulence type="fractalNoise" baseFrequency="0.42 0.30" numOctaves="2" seed="5" result="t"/>
<feColorMatrix in="t" type="matrix" values="0 0 0 0 1  0 0 0 0 1  0 0 0 0 1  1 0 0 0 0" result="n"/>
<feComposite in="n" in2="m" operator="arithmetic" k1="0" k2="1" k3="0.4" k4="-0.4" result="c"/>
<feColorMatrix in="c" type="matrix" values="0 0 0 0 1  0 0 0 0 1  0 0 0 0 1  0 0 0 6 -3.15"/>
</filter>
<filter id="den" filterUnits="userSpaceOnUse" x="1090" y="75" width="500" height="520" color-interpolation-filters="sRGB">
<feGaussianBlur in="SourceGraphic" stdDeviation="9" result="m"/>
<feTurbulence type="fractalNoise" baseFrequency="0.30 0.09" numOctaves="2" seed="23" result="t"/>
<feColorMatrix in="t" type="matrix" values="0 0 0 0 1  0 0 0 0 1  0 0 0 0 1  1 0 0 0 0" result="n"/>
<feComposite in="n" in2="m" operator="arithmetic" k1="0" k2="1" k3="0.4" k4="-0.4" result="c"/>
<feColorMatrix in="c" type="matrix" values="0 0 0 0 0.93  0 0 0 0 0.93  0 0 0 0 0.93  0 0 0 6 -3.3"/>
</filter>
<filter id="mot" x="0" y="0" width="1" height="1" color-interpolation-filters="sRGB">
<feTurbulence type="fractalNoise" baseFrequency="0.03 0.045" numOctaves="3" seed="11"/>
<feColorMatrix type="matrix" values="0 0 0 0 0  0 0 0 0 0  0 0 0 0 0  0 0.9 0 0 -0.36"/>
</filter>
<filter id="mot2" x="0" y="0" width="1" height="1" color-interpolation-filters="sRGB">
<feTurbulence type="fractalNoise" baseFrequency="0.05 0.035" numOctaves="3" seed="31"/>
<feColorMatrix type="matrix" values="0 0 0 0 1  0 0 0 0 1  0 0 0 0 1  0 0.8 0 0 -0.34"/>
</filter>
<filter id="rim" x="-0.1" y="-0.1" width="1.2" height="1.2"><feGaussianBlur stdDeviation="1.2"/></filter>
</defs>
<rect x="952.5" y="65.8" width="809.5" height="602.5" fill="#fff"/>
<rect x="956.0" y="67.0" width="800.0" height="599.8" fill="#000"/>
<path d="M1317.4 80.8C1334.6 80.0 1360.2 81.2 1380.0 84.5C1399.8 87.8 1418.5 93.0 1436.0 100.5C1453.5 108.0 1469.3 117.9 1485.3 129.5C1501.2 141.1 1519.2 156.5 1531.7 170.0C1544.2 183.5 1552.9 195.1 1560.6 210.5C1568.3 225.9 1574.1 244.3 1578.0 262.7C1581.9 281.1 1583.6 305.7 1583.8 320.6C1584.0 335.5 1580.9 341.5 1579.0 352.0C1577.1 362.5 1575.3 373.3 1572.2 383.4C1569.1 393.5 1565.9 400.3 1560.6 412.4C1555.3 424.5 1549.0 440.9 1540.3 455.8C1531.6 470.8 1521.0 488.6 1508.5 502.1C1496.0 515.6 1479.5 526.2 1465.0 536.9C1450.5 547.5 1435.8 557.9 1421.6 566.0C1407.4 574.1 1392.4 581.8 1380.0 585.5C1367.6 589.2 1359.6 589.4 1347.2 588.5C1334.8 587.6 1318.0 583.1 1305.5 580.4C1293.0 577.7 1283.2 575.1 1272.1 572.1C1261.0 569.1 1248.5 566.0 1238.7 562.1C1229.0 558.2 1220.8 553.4 1213.6 548.7C1206.4 544.0 1200.9 539.6 1195.3 533.7C1189.7 527.9 1184.9 520.3 1180.2 513.6C1175.5 506.9 1171.4 500.3 1166.9 493.6C1162.5 486.9 1158.8 480.7 1153.5 473.5C1148.2 466.3 1140.9 457.4 1135.1 450.2C1129.2 443.0 1122.6 437.6 1118.4 430.1C1114.2 422.6 1112.6 413.4 1110.1 405.0C1107.6 396.6 1105.2 389.4 1103.4 380.0C1101.6 370.6 1100.5 362.0 1099.5 348.7C1098.5 335.4 1097.2 313.9 1097.4 300.0C1097.6 286.1 1098.1 276.1 1100.5 265.0C1102.9 253.9 1105.6 246.6 1111.8 233.7C1118.0 220.8 1127.3 201.9 1137.9 187.4C1148.5 172.9 1162.0 158.5 1175.5 146.9C1189.0 135.3 1202.1 127.6 1219.0 117.9C1235.9 108.2 1260.5 95.2 1276.9 89.0C1293.3 82.8 1300.2 81.5 1317.4 80.8Z" fill="url(#sg)" filter="url(#rim)"/>
<g clip-path="url(#sph)">
<rect x="1090" y="75" width="500" height="520" fill="#000" filter="url(#mot)"/>
<rect x="1090" y="75" width="500" height="520" fill="#fff" filter="url(#mot2)"/>
<ellipse cx="1350" cy="140" rx="150" ry="55" fill="#727272" fill-opacity="0.75" filter="url(#soft6)"/>
<path d="M1116.0 430.5L1158.1 469.5L1209.2 499.6L1266.2 517.6L1350.4 529.6L1440.5 520.6L1515.6 490.5L1530.6 610.7L1110.0 610.7Z" fill="#000" fill-opacity="0.16" filter="url(#soft4)"/>
<g fill="#000" fill-opacity="0.35" filter="url(#soft2)">
<circle cx="1311.3" cy="142.1" r="3.5"/>
<circle cx="1368.4" cy="115.1" r="5.5"/>
<circle cx="1290.3" cy="109.1" r="3.9"/>
<circle cx="1221.2" cy="178.1" r="3.1"/>
<circle cx="1380.4" cy="121.1" r="3.5"/>
</g>
<ellipse cx="1320.3" cy="334.3" rx="115" ry="120" fill="#fff" fill-opacity="0.13" filter="url(#soft14)"/>
<ellipse cx="1479.5" cy="364.4" rx="60" ry="95" fill="#fff" fill-opacity="0.12" filter="url(#soft14)" transform="rotate(18 1479.5 364.4)"/>
<path d="M1221.2 211.2L1248.2 205.2L1272.2 220.2L1272.2 250.2L1260.2 280.3L1272.2 310.3L1266.2 340.4L1248.2 367.4L1224.2 370.4L1212.2 340.4L1209.2 298.3L1215.2 256.2ZM1299.3 265.3L1335.3 253.2L1374.4 262.2L1398.4 286.3L1407.4 325.3L1401.4 364.4L1383.4 394.4L1350.4 409.4L1320.3 406.4L1296.3 415.4L1278.3 400.4L1272.2 364.4L1287.3 340.4L1296.3 304.3Z" fill="#fff" fill-opacity="0.42" filter="url(#soft6)"/>
<g filter="url(#spk)"><path d="M1221.2 211.2L1248.2 205.2L1272.2 220.2L1272.2 250.2L1260.2 280.3L1272.2 310.3L1266.2 340.4L1248.2 367.4L1224.2 370.4L1212.2 340.4L1209.2 298.3L1215.2 256.2ZM1299.3 265.3L1335.3 253.2L1374.4 262.2L1398.4 286.3L1407.4 325.3L1401.4 364.4L1383.4 394.4L1350.4 409.4L1320.3 406.4L1296.3 415.4L1278.3 400.4L1272.2 364.4L1287.3 340.4L1296.3 304.3Z" fill="#fff"/></g>
<g stroke="#d2d2d2" stroke-linecap="round" fill="none" stroke-opacity="0.88" filter="url(#soft05)">
<path d="M1260.2 496.6L1311.3 522.1" stroke-width="6.0"/>
<path d="M1275.3 489.0L1341.3 525.1" stroke-width="4.4"/>
<path d="M1291.8 513.1L1330.8 538.6" stroke-width="5.0"/>
<path d="M1320.3 498.1L1369.9 520.6" stroke-width="6.2"/>
<path d="M1257.2 520.6L1290.3 538.6" stroke-width="4.0"/>
<path d="M1338.3 489.0L1375.9 505.6" stroke-width="3.6"/>
<path d="M1266.2 534.1L1308.3 552.1" stroke-width="3.0"/>
<path d="M1350.4 514.6L1377.4 529.6" stroke-width="3.4"/>
</g>
<path d="M1532.4 238.0l-3.4 -0.6M1532.2 242.7l-3.2 -0.6M1529.6 246.0l-2.0 -0.4M1529.9 251.2l-3.5 -0.8M1528.1 255.5l-2.0 -0.5M1525.9 263.6l-1.8 -0.5M1525.9 267.1l-3.2 -0.9M1524.3 271.3l-3.6 -1.1M1522.9 276.4l-1.7 -0.6M1522.3 280.0l-1.8 -0.6M1521.3 283.7l-3.2 -1.1M1519.1 287.1l-2.1 -0.8M1518.1 290.5l-3.1 -1.2M1516.0 295.2l-2.2 -0.9M1514.0 299.1l-3.1 -1.3M1512.4 303.9l-3.3 -1.5M1511.2 307.8l-3.4 -1.6M1509.5 310.9l-3.1 -1.5M1504.9 318.5l-1.8 -1.0M1502.9 321.7l-1.9 -1.0M1499.8 329.2l-2.5 -1.5M1496.5 333.3l-2.0 -1.2M1494.2 336.3l-1.5 -1.0M1492.0 340.7l-2.7 -1.8M1490.1 343.2l-1.8 -1.2M1486.6 348.0l-2.3 -1.7M1486.5 351.6l-3.0 -2.2M1538.1 248.4l-1.9 -0.3M1538.0 253.6l-2.9 -0.6M1538.3 256.4l-3.4 -0.7M1536.3 260.7l-1.9 -0.4M1534.6 265.3l-2.2 -0.5M1533.3 269.8l-1.9 -0.5M1531.9 273.3l-2.0 -0.6M1532.2 278.2l-1.8 -0.5M1531.5 282.3l-3.3 -1.0M1529.8 285.2l-2.3 -0.8M1528.9 289.5l-2.5 -0.9M1527.2 293.4l-2.2 -0.8M1525.4 298.1l-2.4 -0.9M1520.8 310.8l-3.4 -1.5M1517.0 317.7l-1.6 -0.8M1515.3 321.5l-2.6 -1.3M1507.2 336.5l-2.9 -1.7M1505.3 339.6l-1.8 -1.0M1501.3 347.2l-1.9 -1.2M1544.1 263.8l-2.8 -0.5M1544.3 268.5l-3.5 -0.7M1542.4 271.4l-2.3 -0.5M1542.1 275.7l-3.6 -0.9M1540.4 279.5l-2.1 -0.5M1540.0 284.1l-1.6 -0.4M1537.4 291.7l-1.8 -0.5M1536.3 296.5l-3.2 -1.0M1534.5 300.7l-1.6 -0.5M1530.8 309.3l-2.9 -1.1M1531.0 312.4l-2.7 -1.1M1528.6 316.0l-3.0 -1.3M1525.6 324.2l-2.1 -0.9M1523.2 327.6l-1.7 -0.8M1522.1 331.6l-1.9 -1.0M1516.0 342.6l-2.7 -1.5M1514.7 346.6l-1.9 -1.1M1512.9 349.7l-2.9 -1.7M1552.4 269.2l-2.0 -0.3M1550.3 277.7l-3.6 -0.8M1549.4 283.1l-3.1 -0.7M1548.5 291.0l-3.0 -0.8M1546.6 294.1l-2.7 -0.7M1544.8 299.0l-3.0 -0.9M1544.7 302.5l-3.2 -1.0M1543.1 307.7l-2.9 -1.0M1540.7 314.9l-3.2 -1.2M1538.2 318.3l-2.0 -0.8M1536.1 322.4l-1.5 -0.6M1536.4 327.2l-3.2 -1.3M1533.4 330.9l-1.7 -0.7M1531.3 338.1l-1.5 -0.7M1529.0 342.4l-2.8 -1.4M1526.7 345.6l-2.6 -1.3M1524.1 350.3l-1.5 -0.8M1558.1 281.0l-2.6 -0.5M1558.7 284.2l-3.0 -0.6M1556.3 289.2l-1.6 -0.3M1557.1 292.6l-3.2 -0.7M1553.1 305.2l-3.3 -0.9M1551.0 313.4l-2.3 -0.7M1549.5 317.9l-2.5 -0.8M1547.7 326.3l-2.5 -0.9M1545.1 328.8l-3.2 -1.2M1544.8 333.2l-3.4 -1.4M1540.8 342.0l-3.2 -1.4M1539.3 346.0l-2.8 -1.3M1537.0 348.1l-2.1 -1.0M1152.5 395.0l-1.4 0.5M1147.4 385.8l-1.4 0.4M1144.9 362.8l-1.5 0.2M1145.1 358.9l-1.5 0.2M1146.0 354.1l-1.5 0.2M1143.4 348.6l-1.5 0.1M1142.5 345.6l-1.5 0.1M1143.9 339.9l-1.5 0.0M1142.2 335.8l-1.5 0.0M1145.3 323.1l-1.5 -0.1M1143.6 316.9l-1.5 -0.1M1144.2 307.6l-1.5 -0.2M1147.0 297.6l-1.5 -0.3M1146.2 290.2l-1.5 -0.3M1149.7 286.9l-1.5 -0.4M1150.3 282.1l-1.4 -0.4M1152.0 277.2l-1.4 -0.4M1153.2 270.0l-1.4 -0.5M1158.1 259.5l-1.4 -0.6M1163.5 247.2l-1.3 -0.7M1169.3 238.6l-1.3 -0.7M1171.0 235.5l-1.3 -0.8M1172.9 231.3l-1.3 -0.8M1174.7 226.8l-1.3 -0.8M1178.2 223.8l-1.2 -0.9M1182.3 215.3l-1.2 -0.9M1195.3 202.0l-1.1 -1.0M1136.5 390.4l-1.5 0.4M1134.9 383.9l-1.5 0.4M1134.6 378.7l-1.5 0.3M1132.9 371.7l-1.5 0.3M1133.3 367.0l-1.5 0.2M1130.8 362.4l-1.5 0.2M1131.7 357.3l-1.5 0.2M1130.3 352.8l-1.5 0.1M1129.8 344.8l-1.5 0.1M1129.6 340.3l-1.5 0.0M1130.6 334.2l-1.5 0.0M1129.3 316.0l-1.5 -0.1M1132.2 303.2l-1.5 -0.2M1134.0 295.7l-1.5 -0.3M1134.1 288.7l-1.5 -0.3M1135.7 285.5l-1.5 -0.4M1136.1 280.7l-1.5 -0.4M1136.9 275.9l-1.4 -0.4M1138.8 272.9l-1.4 -0.4M1139.9 266.2l-1.4 -0.5M1141.8 262.8l-1.4 -0.5M1150.5 243.8l-1.4 -0.7M1152.8 238.5l-1.3 -0.7M1155.7 235.1l-1.3 -0.7M1161.9 223.4l-1.3 -0.8M1164.4 217.1l-1.3 -0.8M1168.0 216.1l-1.2 -0.9M1170.2 214.4l-1.2 -0.9M1170.7 207.9l-1.2 -0.9M1178.3 201.9l-1.2 -1.0M1179.9 197.9l-1.1 -1.0M1121.8 379.0l-1.5 0.3M1121.7 374.1l-1.5 0.3M1120.5 372.0l-1.5 0.3M1120.5 363.7l-1.5 0.2M1118.7 358.7l-1.5 0.2M1117.8 353.3l-1.5 0.1M1117.7 341.2l-1.5 0.0M1118.1 335.2l-1.5 0.0M1118.0 330.5l-1.5 -0.0M1117.4 321.5l-1.5 -0.1M1119.1 317.0l-1.5 -0.1M1118.8 310.3l-1.5 -0.1M1120.9 297.6l-1.5 -0.2M1120.7 293.6l-1.5 -0.3M1121.4 289.8l-1.5 -0.3M1122.6 285.5l-1.5 -0.3M1124.6 275.9l-1.4 -0.4M1126.0 272.2l-1.4 -0.4M1128.8 267.8l-1.4 -0.5M1131.9 260.4l-1.4 -0.5M1134.3 254.2l-1.4 -0.5M1134.3 244.9l-1.4 -0.6M1139.0 241.5l-1.4 -0.6M1140.9 237.4l-1.4 -0.7M1143.4 234.8l-1.3 -0.7M1147.5 220.6l-1.3 -0.8M1153.1 214.0l-1.3 -0.8M1157.7 206.1l-1.2 -0.9M1160.7 201.9l-1.2 -0.9M1162.3 199.7l-1.2 -0.9M1166.1 195.2l-1.2 -0.9" stroke="#e8e8e8" stroke-opacity="0.60" stroke-width="1.4" stroke-linecap="round" fill="none" filter="url(#soft05)"/>
<path d="M1250.4 212.5l-3.7 -1.0M1249.4 215.4l-2.5 -0.7M1248.5 219.1l-4.3 -1.2M1247.2 222.4l-3.9 -1.1M1245.1 227.6l-3.1 -0.8M1244.3 232.0l-4.1 -1.1M1244.3 236.0l-4.7 -1.3M1242.9 240.0l-4.7 -1.3M1257.9 219.0l-4.7 -1.3M1255.6 221.5l-4.5 -1.2M1254.9 224.1l-3.2 -0.9M1254.1 228.7l-2.3 -0.6M1249.1 243.0l-2.5 -0.7M1249.2 249.3l-4.4 -1.2M1262.5 225.2l-2.9 -0.8M1265.0 228.3l-3.7 -1.0M1262.6 231.6l-3.2 -0.9M1260.6 235.2l-2.6 -0.7M1260.9 239.4l-4.6 -1.2M1256.0 253.4l-2.6 -0.7M1256.7 255.0l-4.8 -1.3M1270.9 232.1l-3.1 -0.8M1270.3 234.4l-2.5 -0.7M1270.7 238.6l-2.5 -0.7M1268.6 241.0l-3.1 -0.8M1267.1 245.1l-3.7 -1.0M1265.9 249.6l-2.7 -0.7M1265.9 252.1l-2.8 -0.7M1264.1 257.0l-2.6 -0.7M1264.5 258.4l-4.8 -1.3M1277.9 241.4l-3.4 -0.9M1276.8 243.6l-2.8 -0.8M1277.5 248.0l-3.8 -1.0M1274.6 251.6l-4.2 -1.1M1274.6 256.4l-4.0 -1.1M1273.8 259.3l-4.1 -1.1M1272.2 263.0l-4.1 -1.1M1271.1 265.7l-2.2 -0.6M1269.4 269.3l-2.4 -0.6M1284.2 247.5l-2.9 -0.8M1283.7 251.9l-3.1 -0.8M1282.8 255.1l-4.0 -1.1M1281.7 262.8l-4.2 -1.1M1279.3 268.1l-3.6 -1.0M1278.9 272.1l-4.1 -1.1M1278.7 276.0l-4.4 -1.2M1276.0 280.2l-3.3 -0.9M1275.0 283.4l-3.1 -0.8M1275.3 286.8l-3.3 -0.9M1292.5 250.6l-2.2 -0.6M1293.3 255.1l-4.5 -1.2M1291.1 258.4l-4.7 -1.2M1289.9 261.0l-2.3 -0.6M1290.3 265.4l-4.5 -1.2M1288.5 271.2l-4.3 -1.2M1286.2 275.5l-2.9 -0.8M1179.7 237.7l-2.2 -0.9M1179.1 243.0l-2.8 -1.1M1175.8 249.0l-3.3 -1.3M1176.3 251.6l-2.6 -1.1M1173.6 255.0l-3.1 -1.2M1172.9 258.2l-3.0 -1.2M1170.6 260.6l-3.2 -1.3M1170.0 265.4l-3.9 -1.6M1169.0 269.4l-4.3 -1.7M1166.9 272.8l-4.7 -1.9M1166.8 275.0l-4.0 -1.6M1189.2 241.0l-4.0 -1.6M1188.5 245.1l-3.8 -1.5M1184.6 251.5l-4.4 -1.8M1181.8 257.9l-3.1 -1.3M1181.0 262.3l-4.2 -1.7M1178.4 268.5l-2.2 -0.9M1177.1 272.1l-4.4 -1.8M1175.2 273.7l-2.3 -0.9M1175.2 278.1l-4.3 -1.7M1195.7 243.7l-2.6 -1.0M1194.7 249.9l-3.1 -1.3M1187.7 263.6l-3.7 -1.5M1187.5 267.8l-2.3 -0.9M1185.5 270.9l-2.2 -0.9M1183.9 273.5l-4.2 -1.7M1182.5 277.1l-2.3 -0.9M1182.0 280.6l-4.3 -1.7M1204.0 249.1l-4.1 -1.6M1200.9 252.9l-3.3 -1.3M1200.6 256.4l-3.5 -1.4M1198.5 262.9l-4.5 -1.8M1195.6 266.4l-3.6 -1.5M1193.6 269.2l-3.3 -1.3M1193.1 272.9l-2.1 -0.8M1188.5 284.3l-3.9 -1.6M1211.5 248.4l-4.2 -1.7M1211.5 252.0l-3.9 -1.6M1208.5 254.7l-2.7 -1.1M1208.4 257.9l-4.3 -1.7M1206.9 261.3l-2.1 -0.9M1205.7 265.2l-4.6 -1.9M1204.3 268.4l-4.1 -1.7M1202.1 275.1l-4.0 -1.6M1200.2 278.9l-4.1 -1.6M1197.3 281.6l-2.3 -0.9M1198.0 285.1l-4.4 -1.8M1214.2 404.7l-1.3 0.8M1214.6 402.0l-1.3 0.7M1212.1 397.4l-1.3 0.7M1209.2 391.6l-1.4 0.6M1208.3 389.7l-1.4 0.6M1206.0 383.4l-1.4 0.5M1202.2 378.6l-1.4 0.5M1201.3 371.2l-1.5 0.4M1199.8 361.4l-1.5 0.3M1198.9 358.1l-1.5 0.2M1197.3 353.2l-1.5 0.2M1197.1 349.7l-1.5 0.2M1197.3 339.0l-1.5 0.1M1198.0 335.6l-1.5 0.0M1197.0 330.0l-1.5 -0.0M1197.2 321.3l-1.5 -0.1M1200.2 311.1l-1.5 -0.2M1199.6 306.0l-1.5 -0.3M1200.8 302.3l-1.5 -0.3M1202.0 298.6l-1.5 -0.4M1204.0 294.0l-1.4 -0.4M1204.1 291.3l-1.4 -0.5M1203.8 286.1l-1.4 -0.5M1207.9 283.1l-1.4 -0.6M1210.6 272.7l-1.4 -0.7M1212.8 269.6l-1.3 -0.7M1215.6 264.4l-1.3 -0.7M1219.4 257.5l-1.3 -0.8M1221.9 252.1l-1.2 -0.9M1226.2 248.6l-1.2 -0.9M1229.3 245.8l-1.2 -0.9M1237.7 235.6l-1.1 -1.1M1240.9 233.0l-1.0 -1.1M1243.7 229.2l-1.0 -1.1M1249.2 224.5l-1.0 -1.2M1200.1 404.3l-1.3 0.7M1198.3 400.1l-1.4 0.6M1193.8 391.1l-1.4 0.6M1192.3 382.8l-1.4 0.5M1189.7 375.1l-1.4 0.4M1187.9 371.0l-1.5 0.4M1185.7 366.7l-1.5 0.3M1186.2 361.7l-1.5 0.3M1185.5 358.6l-1.5 0.2M1184.9 352.5l-1.5 0.2M1183.5 336.9l-1.5 0.0M1184.8 335.1l-1.5 0.0M1184.0 331.3l-1.5 -0.0M1185.7 325.4l-1.5 -0.1M1184.6 322.5l-1.5 -0.1M1184.6 316.3l-1.5 -0.2M1184.5 310.5l-1.5 -0.2M1186.3 308.7l-1.5 -0.3M1187.5 295.5l-1.5 -0.4M1189.1 290.0l-1.4 -0.4M1193.4 281.5l-1.4 -0.5M1195.3 277.3l-1.4 -0.6M1196.9 273.4l-1.4 -0.6M1200.5 264.5l-1.3 -0.7M1204.1 258.2l-1.3 -0.7M1207.1 253.8l-1.3 -0.8M1215.9 237.7l-1.2 -0.9M1220.5 234.3l-1.2 -1.0M1226.9 229.1l-1.1 -1.0M1227.9 224.6l-1.1 -1.1M1233.1 222.3l-1.0 -1.1M1235.3 217.3l-1.0 -1.1M1183.1 403.0l-1.4 0.6M1177.8 385.3l-1.4 0.5M1174.3 375.8l-1.5 0.4M1174.7 371.3l-1.5 0.3M1173.0 367.4l-1.5 0.3M1172.1 363.9l-1.5 0.3M1170.4 358.2l-1.5 0.2M1170.9 354.2l-1.5 0.2M1170.1 349.2l-1.5 0.1M1170.9 344.6l-1.5 0.1M1167.9 341.3l-1.5 0.1M1169.4 336.9l-1.5 0.0M1170.0 329.7l-1.5 -0.0M1167.9 325.5l-1.5 -0.1M1171.8 312.7l-1.5 -0.2M1175.3 298.2l-1.5 -0.3M1176.3 289.2l-1.4 -0.4M1178.3 282.3l-1.4 -0.5M1183.1 273.8l-1.4 -0.5M1183.2 268.8l-1.4 -0.6M1186.9 259.8l-1.3 -0.7M1193.4 247.7l-1.3 -0.8M1200.9 236.0l-1.2 -0.9M1202.8 233.9l-1.2 -0.9M1205.6 228.9l-1.2 -0.9M1210.9 226.6l-1.1 -1.0M1211.7 220.7l-1.1 -1.0M1214.6 218.7l-1.1 -1.0M1219.4 216.5l-1.1 -1.1M1222.7 212.2l-1.0 -1.1M1168.5 396.4l-1.4 0.5M1164.2 391.5l-1.4 0.5M1163.6 387.9l-1.4 0.4M1162.9 382.5l-1.4 0.4M1160.3 377.5l-1.5 0.4M1159.9 366.7l-1.5 0.3M1156.2 359.8l-1.5 0.2M1156.0 356.6l-1.5 0.2M1156.9 350.6l-1.5 0.1M1158.0 346.6l-1.5 0.1M1156.7 341.8l-1.5 0.1M1156.1 338.1l-1.5 0.0M1157.2 324.8l-1.5 -0.1M1158.1 314.1l-1.5 -0.2M1157.9 311.2l-1.5 -0.2M1159.2 307.2l-1.5 -0.2M1159.1 302.3l-1.5 -0.3M1160.7 297.6l-1.5 -0.3M1160.0 292.6l-1.5 -0.3M1162.3 287.9l-1.5 -0.4M1162.2 284.6l-1.4 -0.4M1165.3 279.6l-1.4 -0.5M1166.9 275.4l-1.4 -0.5M1170.1 267.1l-1.4 -0.6M1171.3 262.3l-1.4 -0.6M1174.2 254.0l-1.3 -0.7M1177.8 250.3l-1.3 -0.7M1178.5 247.2l-1.3 -0.7M1181.0 243.0l-1.3 -0.8M1187.0 234.8l-1.3 -0.8M1191.0 230.6l-1.2 -0.9M1190.0 226.4l-1.2 -0.9M1194.3 224.1l-1.2 -0.9M1205.9 211.0l-1.1 -1.0M1209.5 206.3l-1.1 -1.1M1412.8 526.6l0.6 0.6M1451.0 566.9l0.6 0.6M1440.9 555.1l0.6 0.6M1479.8 517.4l0.6 0.6M1398.3 512.9l0.6 0.6M1381.0 511.6l0.6 0.6M1417.0 513.6l0.6 0.6M1455.6 545.4l0.6 0.6M1477.9 543.7l0.6 0.6M1395.1 535.5l0.6 0.6M1495.4 553.0l0.6 0.6M1485.2 565.3l0.6 0.6M1412.0 521.9l0.6 0.6M1451.0 538.9l0.6 0.6M1457.3 566.0l0.6 0.6M1416.2 570.5l0.6 0.6M1494.7 511.3l0.6 0.6M1457.8 569.5l0.6 0.6M1396.6 551.5l0.6 0.6M1462.2 556.0l0.6 0.6M1386.2 506.3l0.6 0.6M1488.7 502.2l0.6 0.6M1418.5 532.7l0.6 0.6M1499.8 541.0l0.6 0.6M1495.8 539.8l0.6 0.6M1487.2 502.7l0.6 0.6M1482.6 565.0l0.6 0.6M1424.8 572.6l0.6 0.6M1403.0 511.3l0.6 0.6M1466.3 503.2l0.6 0.6M1414.6 577.2l0.6 0.6M1459.3 561.4l0.6 0.6M1422.1 531.7l0.6 0.6M1487.3 555.3l0.6 0.6M1409.5 532.9l0.6 0.6M1422.8 575.9l0.6 0.6M1453.0 546.1l0.6 0.6M1410.5 517.0l0.6 0.6M1437.7 515.1l0.6 0.6M1461.4 532.9l0.6 0.6M1434.8 510.6l0.6 0.6M1480.1 567.3l0.6 0.6M1450.2 554.1l0.6 0.6M1401.3 509.0l0.6 0.6M1481.1 527.0l0.6 0.6M1425.7 534.1l0.6 0.6M1496.6 570.5l0.6 0.6M1446.2 528.1l0.6 0.6M1376.8 541.6l0.6 0.6M1479.4 571.2l0.6 0.6M1402.9 547.4l0.6 0.6M1411.2 534.8l0.6 0.6M1494.5 513.1l0.6 0.6M1493.5 502.5l0.6 0.6M1379.7 527.4l0.6 0.6M1475.6 558.3l0.6 0.6M1481.4 561.9l0.6 0.6M1428.2 534.5l0.6 0.6M1434.1 536.4l0.6 0.6M1479.8 517.4l0.6 0.6M1395.2 563.5l0.6 0.6M1403.9 556.8l0.6 0.6M1412.3 555.3l0.6 0.6M1485.8 555.1l0.6 0.6M1473.5 549.0l0.6 0.6M1498.3 556.7l0.6 0.6M1478.7 557.0l0.6 0.6M1402.5 529.7l0.6 0.6M1437.4 558.1l0.6 0.6M1435.4 567.1l0.6 0.6" stroke="#e8e8e8" stroke-opacity="0.80" stroke-width="2.0" stroke-linecap="round" fill="none" filter="url(#soft05)"/>
<path d="M1458.5 281.5l-8.1 -2.8M1457.9 287.0l-6.2 -2.1M1453.3 289.6l-4.6 -1.6M1454.7 296.1l-8.2 -2.8M1451.9 299.9l-8.5 -2.9M1449.5 304.6l-6.0 -2.0M1449.4 309.8l-7.5 -2.5M1446.0 314.3l-6.2 -2.1M1445.1 318.2l-6.9 -2.3M1443.4 323.9l-5.2 -1.8M1440.8 325.7l-5.6 -1.9M1442.0 332.1l-9.2 -3.1M1439.1 336.0l-8.9 -3.0M1436.1 339.5l-4.4 -1.5M1437.0 345.4l-9.2 -3.1M1467.5 292.2l-5.3 -2.4M1467.4 296.1l-8.0 -3.6M1462.2 301.6l-4.8 -2.2M1462.7 305.1l-9.0 -4.1M1459.6 309.7l-7.6 -3.4M1457.5 314.6l-7.5 -3.4M1454.6 316.8l-5.6 -2.5M1453.7 322.8l-6.5 -2.9M1452.1 326.7l-7.3 -3.3M1448.9 331.8l-7.7 -3.5M1448.8 335.4l-9.0 -4.1M1445.3 339.8l-6.1 -2.7M1442.2 343.7l-4.8 -2.2M1439.6 348.9l-4.0 -1.8M1440.0 353.0l-6.9 -3.1M1437.6 356.1l-6.8 -3.1M1436.9 361.3l-8.6 -3.9M1433.5 365.9l-7.7 -3.5M1433.6 370.9l-7.5 -3.4M1483.0 286.2l-8.6 -2.6M1480.4 293.9l-6.9 -2.1M1477.1 298.6l-4.5 -1.4M1477.1 302.4l-6.7 -2.0M1476.4 307.9l-7.1 -2.2M1473.7 310.2l-5.1 -1.6M1473.4 316.6l-8.1 -2.5M1468.3 326.2l-4.2 -1.3M1468.3 331.9l-6.2 -1.9M1467.8 335.3l-7.8 -2.4M1467.2 340.4l-7.0 -2.1M1465.5 343.3l-8.2 -2.5M1463.3 349.4l-6.2 -1.9M1460.4 354.5l-5.0 -1.5M1459.3 358.1l-6.0 -1.8M1457.8 363.7l-5.0 -1.5M1458.7 368.5l-7.4 -2.3M1457.3 372.8l-7.7 -2.3M1450.4 386.3l-6.2 -1.9M1450.0 390.7l-4.4 -1.3M1449.2 395.8l-6.5 -2.0M1447.9 399.8l-6.3 -1.9M1494.1 294.8l-4.3 -1.6M1493.6 300.3l-8.4 -3.2M1489.5 309.0l-7.4 -2.8M1487.9 317.6l-8.3 -3.1M1485.1 321.7l-7.9 -3.0M1484.7 327.6l-7.9 -3.0M1480.9 336.4l-9.1 -3.4M1478.8 340.0l-7.8 -2.9M1474.3 346.9l-5.5 -2.1M1472.1 353.8l-6.1 -2.3M1471.8 357.0l-6.9 -2.6M1467.7 360.9l-4.4 -1.6M1468.0 366.9l-8.1 -3.1M1466.9 371.6l-6.2 -2.3M1462.7 380.9l-4.3 -1.6M1463.4 385.4l-9.3 -3.5M1460.1 389.6l-6.8 -2.5M1456.9 393.7l-4.8 -1.8M1456.4 398.6l-6.9 -2.6M1512.4 304.9l-4.7 -1.0M1513.6 309.2l-8.2 -1.8M1511.7 312.5l-5.8 -1.3M1509.8 318.8l-4.6 -1.0M1509.5 323.4l-8.1 -1.8M1505.5 328.3l-4.3 -0.9M1507.6 333.4l-7.1 -1.6M1506.1 341.8l-6.0 -1.3M1505.3 348.2l-9.3 -2.0M1502.7 351.7l-6.1 -1.3M1502.5 356.2l-5.4 -1.2M1500.5 359.6l-4.4 -1.0M1499.9 365.1l-7.1 -1.6M1499.3 371.6l-7.1 -1.5M1497.2 374.4l-4.7 -1.0M1495.6 379.2l-6.6 -1.4M1523.8 314.6l-9.5 -2.7M1522.2 324.1l-9.3 -2.6M1516.6 333.0l-7.5 -2.1M1516.5 337.5l-7.7 -2.2M1511.2 351.3l-5.3 -1.5M1509.5 355.7l-5.5 -1.6M1509.5 360.7l-8.2 -2.3M1508.3 364.0l-7.6 -2.1M1506.8 369.0l-7.7 -2.2M1506.5 374.8l-9.3 -2.6M1502.2 379.0l-8.3 -2.3M1499.9 389.3l-6.3 -1.8M1500.7 392.4l-8.4 -2.4M1496.9 397.3l-4.7 -1.3M1497.4 401.9l-5.9 -1.7M1494.4 407.2l-4.5 -1.3M1495.3 411.1l-8.5 -2.4M1494.2 420.3l-9.0 -2.5M1488.1 429.7l-6.5 -1.8M1541.5 317.0l-6.0 -3.1M1540.0 322.5l-4.3 -2.2M1536.3 324.8l-4.3 -2.2M1534.3 330.3l-5.1 -2.7M1534.1 335.2l-5.7 -3.0M1532.6 339.5l-8.7 -4.5M1527.5 343.5l-5.0 -2.6M1525.3 347.7l-4.4 -2.3M1523.4 351.6l-4.1 -2.2M1520.9 354.8l-5.6 -2.9M1517.6 364.3l-4.5 -2.4M1515.3 369.8l-5.6 -2.9M1512.7 374.2l-5.8 -3.0M1509.0 381.8l-4.6 -2.4M1505.5 387.4l-5.5 -2.8M1505.0 391.7l-6.3 -3.3M1504.0 396.4l-8.6 -4.5M1500.9 400.8l-7.6 -3.9M1493.5 407.7l-4.4 -2.3M1442.6 351.5l-7.2 -4.2M1440.2 355.0l-8.3 -4.8M1434.3 362.7l-7.2 -4.2M1429.7 366.7l-7.9 -4.6M1425.4 373.1l-4.5 -2.6M1425.5 379.1l-8.5 -4.9M1423.3 384.0l-7.5 -4.3M1424.6 387.5l-10.0 -5.8M1419.4 391.0l-8.2 -4.7M1418.3 395.4l-8.0 -4.6M1414.7 399.4l-8.5 -4.9M1469.5 358.0l-7.9 -4.5M1467.1 358.3l-5.6 -3.3M1465.6 364.9l-9.1 -5.3M1462.9 368.0l-5.8 -3.4M1459.6 372.7l-6.6 -3.8M1460.7 377.5l-9.0 -5.2M1450.0 393.1l-8.6 -5.0M1498.1 363.2l-8.6 -5.0M1493.9 367.0l-5.8 -3.4M1495.7 373.1l-9.9 -5.7M1493.2 375.7l-7.7 -4.5M1492.1 379.4l-9.7 -5.6M1487.1 383.5l-7.8 -4.5M1486.1 388.2l-8.8 -5.1M1483.2 392.8l-10.0 -5.8M1478.8 394.3l-5.8 -3.3M1479.5 399.6l-9.1 -5.3M1478.6 402.1l-8.4 -4.8M1290.0 411.7l-4.4 -0.9M1287.9 416.0l-3.6 -0.7M1284.6 432.9l-3.1 -0.6M1283.4 437.0l-4.7 -0.9M1284.8 441.0l-6.2 -1.2M1282.3 449.0l-5.7 -1.1M1280.0 454.1l-3.3 -0.6M1280.1 457.7l-3.8 -0.7M1279.7 462.0l-5.5 -1.1M1313.7 407.8l-5.3 -0.7M1313.5 412.7l-6.8 -0.9M1312.9 416.5l-4.6 -0.6M1312.5 420.6l-4.0 -0.5M1310.4 424.7l-3.2 -0.4M1310.3 429.5l-3.2 -0.4M1309.9 432.9l-4.9 -0.7M1308.3 436.8l-3.3 -0.4M1310.0 441.1l-5.3 -0.7M1309.6 445.3l-6.8 -0.9M1338.7 401.0l-5.1 -0.4M1337.1 410.1l-3.8 -0.3M1336.6 413.3l-3.8 -0.3M1337.5 418.5l-6.0 -0.5M1336.7 421.6l-5.2 -0.4M1335.9 425.6l-3.5 -0.3M1336.6 430.4l-4.9 -0.4M1335.8 435.0l-5.9 -0.5M1335.1 443.3l-3.5 -0.3M1362.3 390.8l-6.0 -0.1M1361.8 394.4l-5.0 -0.1M1360.6 398.5l-3.2 -0.1M1361.6 402.7l-3.8 -0.1M1360.3 406.8l-4.1 -0.1M1361.8 410.5l-5.6 -0.1M1360.6 416.4l-5.2 -0.1M1362.0 420.3l-6.4 -0.2M1360.4 423.6l-5.1 -0.1M1361.1 436.9l-6.3 -0.2M1360.2 441.3l-4.9 -0.1M1360.8 445.1l-4.0 -0.1M1382.5 395.8l-3.3 0.1M1384.4 408.2l-5.8 0.2M1383.8 413.2l-4.7 0.1M1385.3 416.0l-7.1 0.2M1385.2 421.2l-6.0 0.2M1386.1 425.5l-6.8 0.2M1384.4 428.9l-4.8 0.2M1383.1 433.8l-3.6 0.1M1384.3 437.6l-3.4 0.1M1386.1 442.3l-6.6 0.2M1384.9 446.7l-6.0 0.2M1386.4 450.5l-7.1 0.2M1408.2 391.7l-5.8 0.5M1408.9 396.0l-4.5 0.4M1409.8 400.4l-5.7 0.5M1410.8 404.6l-7.0 0.6M1409.2 408.7l-3.6 0.3M1409.4 412.5l-3.1 0.3M1411.1 416.7l-5.6 0.5M1410.4 425.9l-3.5 0.3M1413.4 429.7l-6.8 0.6M1411.7 433.6l-4.4 0.4M1412.9 438.5l-7.0 0.6M1413.9 441.8l-4.4 0.4M1413.3 445.9l-5.6 0.5M1413.7 450.9l-3.8 0.3M1442.4 455.8l-4.9 -0.4M1443.8 460.8l-7.9 -0.6M1442.7 464.7l-8.2 -0.7M1442.1 473.4l-7.5 -0.6M1438.2 479.3l-4.4 -0.3M1440.7 482.6l-6.2 -0.5M1476.3 449.8l-7.3 -1.1M1476.1 452.5l-5.7 -0.9M1475.6 457.4l-7.1 -1.1M1471.9 461.8l-4.6 -0.7M1473.7 467.1l-7.1 -1.1M1471.9 472.0l-6.4 -1.0M1495.9 441.1l-6.0 -1.6M1495.5 446.7l-6.0 -1.6M1494.0 456.2l-6.9 -1.8M1492.7 461.6l-6.3 -1.7M1490.2 464.1l-4.0 -1.1M1489.1 468.8l-7.2 -1.9M1194.0 198.5l-3.5 -1.7M1193.8 204.6l-4.1 -2.0M1189.4 208.0l-7.1 -3.4M1187.8 213.7l-6.9 -3.3M1186.5 216.4l-5.2 -2.5M1185.9 220.0l-6.1 -2.9M1182.8 224.9l-3.6 -1.8M1214.6 210.6l-5.6 -1.8M1212.2 214.5l-3.6 -1.2M1211.3 218.9l-7.1 -2.3M1208.4 225.0l-5.0 -1.6M1209.4 228.8l-6.8 -2.2M1209.0 232.3l-7.2 -2.3M1236.7 218.9l-3.8 -1.2M1237.1 222.6l-7.3 -2.3M1236.3 227.3l-7.7 -2.4M1234.9 232.2l-7.2 -2.3M1232.5 234.7l-6.8 -2.1M1229.6 240.3l-5.3 -1.7M1229.3 244.4l-4.6 -1.4M1226.7 249.8l-6.6 -2.1M1225.5 253.8l-4.5 -1.4M1224.7 257.0l-3.9 -1.2M1293.5 200.8l-5.2 2.1M1293.2 203.3l-3.3 1.4M1365.9 216.1l-4.3 -0.7M1364.6 218.5l-3.8 -0.6M1278.8 202.7l-4.3 0.5M1279.7 205.3l-5.5 0.7M1344.5 214.1l-2.7 0.7M1345.7 215.6l-4.8 1.3M1297.9 219.4l-4.6 -0.1M1297.8 222.2l-5.4 -0.1M1307.3 231.4l-2.7 1.1M1309.0 233.7l-4.3 1.8M1346.8 229.9l-4.1 -2.9M1345.3 231.7l-3.8 -2.7M1326.7 207.1l-4.3 -0.4M1325.9 209.0l-3.6 -0.4M1362.4 235.5l-3.9 0.3M1363.5 238.0l-5.7 0.4M1303.1 197.3l-4.1 -3.0M1300.6 199.3l-3.5 -2.5M1300.4 227.5l-4.7 1.6M1300.4 230.9l-3.9 1.4M1329.8 218.8l-3.9 0.5M1330.6 220.4l-5.5 0.8M1332.3 212.7l-4.5 -2.4M1332.1 215.3l-3.9 -2.1M1351.7 210.7l-5.0 -1.5M1351.0 213.7l-4.4 -1.3M1314.4 226.7l-5.1 2.3M1315.5 229.1l-5.1 2.3M1292.3 211.1l-4.6 2.2M1292.9 213.6l-3.1 1.5M1350.3 221.6l-2.6 1.1M1352.2 223.6l-4.5 2.0M1334.8 216.8l-2.5 -1.8M1333.0 218.6l-2.2 -1.7M1299.3 244.1l-4.3 -2.4M1297.8 246.1l-3.3 -1.9M1358.6 210.1l-2.6 0.5M1359.0 212.4l-2.8 0.6M1280.8 204.3l-4.1 -2.2M1279.5 206.7l-3.3 -1.8M1352.7 222.3l-2.8 -2.7M1351.6 225.0l-4.0 -3.9M1294.2 235.6l-3.9 1.9M1294.8 238.6l-3.1 1.6M1340.5 216.8l-4.3 -1.5M1339.1 218.2l-3.1 -1.0M1366.2 204.9l-5.0 -3.2M1364.4 205.9l-2.9 -1.8M1332.3 236.1l-2.9 -0.5M1332.3 238.1l-4.2 -0.7M1179.0 518.9l0.8 1.6M1183.8 528.1l0.8 1.6M1188.8 532.2l0.8 1.6M1194.0 539.4l0.8 1.6M1198.6 545.2l0.8 1.6M1206.7 549.3l0.8 1.6M1212.2 555.4l0.8 1.6M1219.8 558.9l0.8 1.6M1228.3 561.5l0.8 1.6M1236.1 567.8l0.8 1.6M1244.0 570.8l0.8 1.6M1252.2 574.4l0.8 1.6M1259.3 579.3l0.8 1.6M1268.4 582.7l0.8 1.6M1278.9 586.3l0.8 1.6M1288.2 588.0l0.8 1.6M1296.7 589.5l0.8 1.6M1305.7 592.4l0.8 1.6M1315.5 594.5l0.8 1.6M1323.5 595.6l0.8 1.6M1332.9 598.1l0.8 1.6M1340.5 600.5l0.8 1.6M1350.8 597.0l0.8 1.6M1358.6 596.1l0.8 1.6M1366.6 597.1l0.8 1.6M1375.6 595.5l0.8 1.6M1385.0 592.9l0.8 1.6M1397.0 590.9l0.8 1.6M1402.2 589.7l0.8 1.6M1408.7 586.4l0.8 1.6M1415.0 583.0l0.8 1.6M1422.6 580.7l0.8 1.6M1428.5 577.1l0.8 1.6M1436.5 573.7l0.8 1.6M1442.8 568.6l0.8 1.6" stroke="#e8e8e8" stroke-opacity="0.80" stroke-width="2.8" stroke-linecap="round" fill="none" filter="url(#soft05)"/>
<path d="M1450.4 274.6l-6.8 -2.1M1447.7 283.9l-7.0 -2.2M1448.0 289.2l-9.4 -2.9M1444.5 294.6l-5.7 -1.8M1442.9 298.5l-5.9 -1.8M1442.7 303.8l-8.4 -2.6M1439.4 307.7l-4.6 -1.4M1440.2 310.0l-7.6 -2.3M1435.9 316.5l-5.3 -1.6M1436.6 321.5l-8.7 -2.7M1434.5 325.6l-4.7 -1.5M1432.0 330.5l-4.9 -1.5M1431.0 334.9l-5.7 -1.7M1430.4 338.1l-5.2 -1.6M1430.2 342.7l-7.3 -2.2M1427.9 346.8l-5.1 -1.6M1426.9 354.8l-8.5 -2.6M1424.0 362.2l-5.3 -1.6M1423.6 367.7l-6.8 -2.1M1420.4 371.0l-5.3 -1.6M1416.6 380.3l-6.2 -1.9M1417.1 384.5l-7.0 -2.2M1415.1 390.3l-4.8 -1.5M1474.7 289.1l-8.2 -5.0M1472.5 293.5l-8.6 -5.2M1469.8 296.8l-6.6 -4.1M1465.1 301.2l-6.0 -3.7M1462.9 305.8l-6.1 -3.8M1461.3 309.4l-6.2 -3.8M1455.4 316.7l-5.3 -3.2M1454.2 321.9l-8.4 -5.1M1450.1 326.2l-7.8 -4.8M1450.2 330.4l-8.0 -4.9M1444.8 333.4l-6.8 -4.2M1443.8 337.2l-4.6 -2.8M1439.9 341.9l-8.0 -4.9M1436.7 345.9l-5.3 -3.3M1434.2 350.1l-4.3 -2.6M1433.8 353.9l-5.3 -3.3M1431.0 359.1l-7.0 -4.3M1427.5 362.4l-5.7 -3.5M1424.4 365.1l-5.7 -3.5M1421.2 370.3l-3.9 -2.4M1421.8 374.4l-7.3 -4.5M1417.0 379.2l-5.1 -3.1M1503.5 305.3l-5.1 -1.8M1500.5 315.0l-4.5 -1.5M1501.2 318.5l-9.2 -3.2M1495.3 326.6l-4.4 -1.5M1495.4 333.0l-8.2 -2.8M1493.6 338.7l-9.4 -3.2M1492.1 341.3l-7.3 -2.5M1488.8 345.5l-5.2 -1.8M1488.9 350.8l-5.3 -1.8M1487.3 355.4l-8.6 -3.0M1484.4 357.4l-7.8 -2.7M1484.2 364.3l-8.0 -2.7M1483.0 369.0l-6.8 -2.3M1480.3 372.6l-5.0 -1.7M1481.0 382.4l-9.5 -3.3M1475.6 386.9l-4.8 -1.6M1473.9 390.9l-6.6 -2.3M1473.4 395.8l-5.9 -2.0M1470.8 400.8l-4.3 -1.5M1469.1 405.1l-5.1 -1.7M1529.4 317.4l-7.4 -3.2M1529.3 323.1l-9.1 -3.9M1525.8 326.7l-7.4 -3.2M1524.9 331.5l-5.5 -2.4M1518.0 340.4l-4.9 -2.1M1518.8 344.2l-6.8 -2.9M1516.1 347.9l-4.5 -1.9M1515.5 354.4l-8.0 -3.4M1513.0 358.5l-7.4 -3.2M1509.6 361.3l-5.8 -2.5M1507.8 366.4l-4.3 -1.8M1506.1 372.2l-6.3 -2.7M1504.8 374.9l-4.1 -1.8M1503.3 380.0l-8.4 -3.6M1502.4 384.5l-9.2 -4.0M1497.3 393.5l-4.1 -1.8M1454.5 353.0l-5.3 -3.1M1454.4 359.3l-10.0 -5.8M1451.8 361.7l-5.6 -3.3M1449.5 366.5l-5.4 -3.1M1447.2 370.7l-7.9 -4.6M1444.8 375.2l-9.2 -5.3M1443.4 377.5l-6.2 -3.6M1440.3 382.7l-7.0 -4.1M1437.5 386.2l-9.9 -5.7M1485.0 360.5l-7.7 -4.4M1481.1 364.7l-9.2 -5.3M1475.5 377.4l-7.5 -4.3M1474.3 380.2l-9.0 -5.2M1471.0 384.3l-7.7 -4.4M1467.3 387.6l-7.8 -4.5M1466.0 390.6l-8.4 -4.8M1461.9 396.0l-5.3 -3.1M1463.5 401.1l-9.9 -5.7M1460.7 403.5l-9.9 -5.7M1455.9 407.9l-7.2 -4.2M1511.8 364.7l-4.6 -2.7M1511.7 371.4l-7.0 -4.1M1507.1 372.5l-4.8 -2.8M1503.6 382.1l-8.8 -5.1M1498.7 389.7l-5.6 -3.2M1495.2 391.2l-4.9 -2.8M1496.1 397.8l-6.5 -3.7M1492.5 401.6l-8.8 -5.1M1488.5 409.9l-10.2 -5.9M1486.4 412.8l-9.8 -5.7M1485.7 418.5l-10.1 -5.9M1276.9 409.9l-4.4 -1.0M1278.2 413.5l-6.9 -1.5M1273.8 421.3l-4.5 -1.0M1274.6 425.5l-5.0 -1.1M1272.2 429.3l-3.7 -0.8M1272.9 434.0l-6.5 -1.5M1271.2 437.9l-5.3 -1.2M1270.4 441.7l-5.2 -1.2M1269.7 446.8l-4.7 -1.1M1268.2 455.3l-6.4 -1.4M1265.7 458.4l-3.9 -0.9M1263.7 466.7l-3.5 -0.8M1262.6 471.2l-3.4 -0.8M1262.3 474.8l-3.1 -0.7M1261.5 479.4l-3.7 -0.8M1262.4 483.5l-6.4 -1.4M1301.3 391.5l-3.4 -0.6M1300.2 396.7l-4.8 -0.8M1299.4 398.8l-4.0 -0.7M1299.4 403.7l-3.5 -0.6M1299.3 409.4l-6.1 -1.0M1297.3 412.9l-3.9 -0.6M1298.2 417.0l-6.2 -1.0M1297.9 420.5l-6.2 -1.0M1294.4 424.8l-3.2 -0.5M1294.1 428.6l-3.9 -0.6M1294.6 432.2l-5.2 -0.9M1293.2 437.1l-4.6 -0.8M1293.2 441.4l-5.5 -0.9M1293.6 446.0l-6.8 -1.1M1292.1 449.4l-5.5 -0.9M1291.4 454.2l-5.6 -0.9M1290.4 458.0l-4.6 -0.8M1289.2 461.7l-4.6 -0.8M1289.0 466.3l-6.4 -1.1M1325.2 377.1l-6.4 -0.7M1324.9 381.6l-4.7 -0.5M1324.7 385.3l-6.8 -0.7M1324.2 390.2l-6.0 -0.7M1323.3 399.5l-4.4 -0.5M1323.6 403.1l-6.1 -0.7M1322.0 406.4l-5.6 -0.6M1321.0 411.1l-4.9 -0.5M1320.9 415.1l-5.2 -0.6M1321.3 420.5l-6.6 -0.7M1320.8 424.5l-6.3 -0.7M1320.0 427.2l-5.6 -0.6M1317.5 440.3l-4.9 -0.5M1348.3 394.6l-3.1 -0.2M1347.9 399.0l-3.6 -0.2M1347.9 403.5l-4.8 -0.3M1348.3 406.9l-6.2 -0.3M1347.3 411.3l-5.5 -0.3M1349.1 419.8l-7.0 -0.4M1347.4 424.6l-5.3 -0.3M1345.8 432.4l-4.7 -0.2M1345.3 436.3l-3.1 -0.2M1345.1 441.2l-4.2 -0.2M1346.4 445.7l-6.2 -0.3M1372.6 394.7l-4.8 0.0M1371.8 398.4l-3.3 0.0M1372.7 402.7l-3.7 0.0M1372.1 407.2l-3.6 0.0M1371.2 410.6l-3.4 0.0M1373.7 416.0l-7.1 0.0M1373.6 420.0l-7.1 0.0M1372.2 424.2l-4.3 0.0M1371.8 428.7l-3.3 0.0M1374.1 436.8l-6.0 0.0M1373.7 441.3l-6.3 0.0M1373.5 445.0l-6.5 0.0M1372.4 449.5l-3.2 0.0M1372.5 453.5l-5.3 0.0M1372.4 457.3l-4.3 0.0M1372.1 462.8l-4.6 0.0M1394.9 402.8l-3.3 0.2M1395.2 406.5l-4.5 0.3M1396.3 410.9l-3.2 0.2M1395.6 415.0l-4.8 0.3M1397.3 418.5l-6.9 0.4M1396.6 423.6l-3.2 0.2M1397.8 428.0l-4.9 0.3M1397.2 431.4l-4.8 0.3M1396.4 435.5l-4.2 0.2M1398.1 440.8l-5.0 0.3M1398.7 444.6l-6.0 0.4M1398.4 448.6l-4.6 0.3M1397.4 452.4l-3.1 0.2M1399.3 457.0l-6.4 0.4M1400.5 464.6l-7.0 0.4M1398.3 468.9l-3.9 0.2M1430.9 451.1l-7.1 -0.1M1428.9 460.0l-5.2 -0.1M1429.3 465.2l-5.7 -0.1M1427.5 468.9l-5.9 -0.1M1427.3 474.9l-4.1 -0.0M1428.9 478.8l-5.6 -0.1M1426.5 483.7l-3.7 -0.0M1454.8 450.3l-6.5 -2.1M1452.7 452.3l-6.3 -2.1M1452.9 458.9l-7.3 -2.4M1449.2 462.2l-3.5 -1.1M1449.2 465.8l-5.1 -1.7M1446.4 471.7l-4.4 -1.4M1444.6 474.1l-3.6 -1.2M1484.9 461.2l-6.8 -1.4M1484.5 469.4l-7.7 -1.6M1482.8 473.6l-7.4 -1.5M1481.2 478.2l-3.6 -0.7M1479.5 483.6l-4.4 -0.9M1479.8 487.1l-3.6 -0.7M1480.3 491.6l-7.5 -1.5M1476.2 495.4l-4.2 -0.9M1512.8 427.8l-7.9 -0.7M1512.0 433.4l-7.6 -0.7M1512.3 438.1l-7.7 -0.7M1508.2 446.4l-4.2 -0.4M1510.6 451.5l-7.2 -0.7M1507.7 455.0l-3.8 -0.4M1509.3 464.2l-6.9 -0.6M1179.1 191.2l-3.9 -1.5M1178.3 196.6l-6.5 -2.5M1176.5 200.2l-3.8 -1.4M1177.2 204.9l-7.7 -2.9M1173.4 208.6l-7.3 -2.8M1173.3 213.3l-6.7 -2.6M1171.0 216.2l-6.0 -2.3M1170.5 222.5l-7.7 -2.9M1198.8 203.4l-4.3 -2.2M1199.9 208.9l-6.5 -3.4M1195.7 212.9l-3.4 -1.8M1194.1 215.4l-6.6 -3.4M1190.8 224.5l-6.9 -3.5M1189.2 228.3l-4.5 -2.3M1186.6 232.3l-5.8 -3.0M1185.3 235.8l-6.0 -3.1M1181.2 237.2l-3.5 -1.8M1225.2 214.5l-7.8 -3.0M1222.2 217.2l-5.5 -2.1M1221.0 223.1l-7.8 -3.0M1219.6 226.6l-5.8 -2.3M1214.5 238.1l-4.7 -1.8M1212.8 242.5l-6.0 -2.3M1211.1 245.5l-5.0 -1.9M1210.7 252.6l-6.1 -2.4M1130.8 439.2l0.8 1.6M1135.5 445.6l0.8 1.6M1141.3 449.7l0.8 1.6M1148.5 455.0l0.8 1.6M1151.3 461.0l0.8 1.6M1158.1 466.5l0.8 1.6M1166.0 470.1l0.8 1.6M1171.3 475.6l0.8 1.6M1177.4 478.8l0.8 1.6M1181.9 482.9l0.8 1.6M1189.2 487.3l0.8 1.6M1197.1 488.2l0.8 1.6M1203.4 493.5l0.8 1.6M1209.2 495.7l0.8 1.6M1216.3 497.6l0.8 1.6M1223.8 501.0l0.8 1.6M1229.4 504.3l0.8 1.6M1236.7 505.9l0.8 1.6M1245.0 510.0l0.8 1.6M1253.6 512.4l0.8 1.6" stroke="#e8e8e8" stroke-opacity="0.80" stroke-width="4.0" stroke-linecap="round" fill="none" filter="url(#soft05)"/>
<path d="M1317.4 80.8C1334.6 80.0 1360.2 81.2 1380.0 84.5C1399.8 87.8 1418.5 93.0 1436.0 100.5C1453.5 108.0 1469.3 117.9 1485.3 129.5C1501.2 141.1 1519.2 156.5 1531.7 170.0C1544.2 183.5 1552.9 195.1 1560.6 210.5C1568.3 225.9 1574.1 244.3 1578.0 262.7C1581.9 281.1 1583.6 305.7 1583.8 320.6C1584.0 335.5 1580.9 341.5 1579.0 352.0C1577.1 362.5 1575.3 373.3 1572.2 383.4C1569.1 393.5 1565.9 400.3 1560.6 412.4C1555.3 424.5 1549.0 440.9 1540.3 455.8C1531.6 470.8 1521.0 488.6 1508.5 502.1C1496.0 515.6 1479.5 526.2 1465.0 536.9C1450.5 547.5 1435.8 557.9 1421.6 566.0C1407.4 574.1 1392.4 581.8 1380.0 585.5C1367.6 589.2 1359.6 589.4 1347.2 588.5C1334.8 587.6 1318.0 583.1 1305.5 580.4C1293.0 577.7 1283.2 575.1 1272.1 572.1C1261.0 569.1 1248.5 566.0 1238.7 562.1C1229.0 558.2 1220.8 553.4 1213.6 548.7C1206.4 544.0 1200.9 539.6 1195.3 533.7C1189.7 527.9 1184.9 520.3 1180.2 513.6C1175.5 506.9 1171.4 500.3 1166.9 493.6C1162.5 486.9 1158.8 480.7 1153.5 473.5C1148.2 466.3 1140.9 457.4 1135.1 450.2C1129.2 443.0 1122.6 437.6 1118.4 430.1C1114.2 422.6 1112.6 413.4 1110.1 405.0C1107.6 396.6 1105.2 389.4 1103.4 380.0C1101.6 370.6 1100.5 362.0 1099.5 348.7C1098.5 335.4 1097.2 313.9 1097.4 300.0C1097.6 286.1 1098.1 276.1 1100.5 265.0C1102.9 253.9 1105.6 246.6 1111.8 233.7C1118.0 220.8 1127.3 201.9 1137.9 187.4C1148.5 172.9 1162.0 158.5 1175.5 146.9C1189.0 135.3 1202.1 127.6 1219.0 117.9C1235.9 108.2 1260.5 95.2 1276.9 89.0C1293.3 82.8 1300.2 81.5 1317.4 80.8Z" fill="none" stroke="#000" stroke-width="9" stroke-opacity="0.35" filter="url(#soft4)"/>
</g>
<circle cx="1337.1" cy="333.2" r="157.7" fill="none" stroke="#e9e96c" stroke-width="1.2"/>
<path d="M1386.3 155.6v-6.5M1386.3 159.6v6.5M1384.3 157.6h-6.5M1388.3 157.6h6.5M1277.5 255.7v-6.5M1277.5 259.7v6.5M1275.5 257.7h-6.5M1279.5 257.7h6.5M1480.4 305.5v-6.5M1480.4 309.5v6.5M1478.4 307.5h-6.5M1482.4 307.5h6.5" stroke="#eadf4c" stroke-width="2.6" fill="none"/>
<g font-family="'Liberation Sans', sans-serif" font-size="14.5px" fill="#20c420">
<text x="1374.0" y="143.0" textLength="106.3" lengthAdjust="spacingAndGlyphs">Set21-31_matrix</text>
<text x="1183.3" y="165.6" textLength="133.3" lengthAdjust="spacingAndGlyphs">Set21-31_body_bulk</text>
<text x="1264.3" y="242.8" textLength="108.0" lengthAdjust="spacingAndGlyphs">Set21-31_olivine</text>
<text x="1467.5" y="292.9" textLength="130.6" lengthAdjust="spacingAndGlyphs">Set21-31_magnetite</text>
</g>
<path d="M1558.6 648.4H1732.2M1559.3 639.4V657.6M1731.5 639.4V657.6" stroke="#fff" stroke-width="2.7" fill="none"/>
<text x="1644.2" y="640.8" text-anchor="middle" font-family="'Liberation Sans', sans-serif" font-weight="bold" font-size="14.4px" fill="#fff">50 µm</text>
<rect x="101.5" y="1550.5" width="1602.0" height="31.0" fill="#d9d9d9"/>
<rect x="101.5" y="1550.5" width="1602.0" height="155.0" fill="none" stroke="#000" stroke-width="1.1" shape-rendering="crispEdges"/>
<path d="M101.5 1581.5H1703.5" stroke="#000" stroke-width="1.1" shape-rendering="crispEdges"/>
<g font-family="'Liberation Sans', sans-serif" font-size="22.3px" fill="#000" stroke="#000" stroke-width="0.3">
<text x="141.9" y="1574.5" textLength="39.6" lengthAdjust="spacingAndGlyphs">MM</text>
<text x="226.3" y="1574.5" textLength="153.3" lengthAdjust="spacingAndGlyphs">Spectrum name</text>
<text x="595.9" y="1574.5" textLength="66.7" lengthAdjust="spacingAndGlyphs">setting</text>
<text x="670.2" y="1574.5" textLength="12.5" lengthAdjust="spacingAndGlyphs">C</text>
<text x="693.7" y="1574.5" textLength="14.1" lengthAdjust="spacingAndGlyphs">O</text>
<text x="718.8" y="1574.5" textLength="55.1" lengthAdjust="spacingAndGlyphs">Na2O</text>
<text x="788.0" y="1574.5" textLength="46.1" lengthAdjust="spacingAndGlyphs">MgO</text>
<text x="846.5" y="1574.5" textLength="59.2" lengthAdjust="spacingAndGlyphs">Al2O3</text>
<text x="919.1" y="1574.5" textLength="44.5" lengthAdjust="spacingAndGlyphs">SiO2</text>
<text x="979.8" y="1574.5" textLength="51.4" lengthAdjust="spacingAndGlyphs">P2O5</text>
<text x="1052.2" y="1574.5" textLength="38.4" lengthAdjust="spacingAndGlyphs">SO3</text>
<text x="1107.1" y="1574.5" textLength="38.4" lengthAdjust="spacingAndGlyphs">K2O</text>
<text x="1160.5" y="1574.5" textLength="40.4" lengthAdjust="spacingAndGlyphs">CaO</text>
<text x="1217.8" y="1574.5" textLength="44.9" lengthAdjust="spacingAndGlyphs">TiO2</text>
<text x="1270.3" y="1574.5" textLength="59.8" lengthAdjust="spacingAndGlyphs">Cr2O3</text>
<text x="1340.6" y="1574.5" textLength="48.4" lengthAdjust="spacingAndGlyphs">MnO</text>
<text x="1411.5" y="1574.5" textLength="37.4" lengthAdjust="spacingAndGlyphs">FeO</text>
<text x="1463.8" y="1574.5" textLength="23.9" lengthAdjust="spacingAndGlyphs">Co</text>
<text x="1512.2" y="1574.5" textLength="19.9" lengthAdjust="spacingAndGlyphs">Ni</text>
<text x="1563.6" y="1574.5" textLength="23.9" lengthAdjust="spacingAndGlyphs">Cu</text>
<text x="1606.6" y="1574.5" textLength="21.9" lengthAdjust="spacingAndGlyphs">Zn</text>
<text x="1650.0" y="1574.5" textLength="43.4" lengthAdjust="spacingAndGlyphs">Sum</text>
<text x="105.0" y="1605.2" textLength="104.3" lengthAdjust="spacingAndGlyphs">THMM459</text>
<text x="226.3" y="1605.2" textLength="202.5" lengthAdjust="spacingAndGlyphs">Set21-31_body_bulk</text>
<text x="623.8" y="1605.2" textLength="11.0" lengthAdjust="spacingAndGlyphs">1</text>
<text x="671.0" y="1605.2" textLength="11.0" lengthAdjust="spacingAndGlyphs">0</text>
<text x="695.2" y="1605.2" textLength="11.0" lengthAdjust="spacingAndGlyphs">0</text>
<text x="790.3" y="1605.2" textLength="41.4" lengthAdjust="spacingAndGlyphs">17,4</text>
<text x="861.5" y="1605.2" textLength="29.2" lengthAdjust="spacingAndGlyphs">4,1</text>
<text x="920.7" y="1605.2" textLength="41.4" lengthAdjust="spacingAndGlyphs">30,1</text>
<text x="1166.1" y="1605.2" textLength="29.2" lengthAdjust="spacingAndGlyphs">3,2</text>
<text x="1285.6" y="1605.2" textLength="29.2" lengthAdjust="spacingAndGlyphs">0,5</text>
<text x="1409.5" y="1605.2" textLength="41.4" lengthAdjust="spacingAndGlyphs">43,3</text>
<text x="1507.6" y="1605.2" textLength="29.2" lengthAdjust="spacingAndGlyphs">1,4</text>
<text x="1644.9" y="1605.2" textLength="53.6" lengthAdjust="spacingAndGlyphs">100,0</text>
<text x="105.0" y="1636.2" textLength="104.3" lengthAdjust="spacingAndGlyphs">THMM459</text>
<text x="226.3" y="1636.2" textLength="164.5" lengthAdjust="spacingAndGlyphs">Set21-31_olivine</text>
<text x="623.8" y="1636.2" textLength="11.0" lengthAdjust="spacingAndGlyphs">1</text>
<text x="671.0" y="1636.2" textLength="11.0" lengthAdjust="spacingAndGlyphs">0</text>
<text x="695.2" y="1636.2" textLength="11.0" lengthAdjust="spacingAndGlyphs">0</text>
<text x="790.3" y="1636.2" textLength="41.4" lengthAdjust="spacingAndGlyphs">37,6</text>
<text x="861.5" y="1636.2" textLength="29.2" lengthAdjust="spacingAndGlyphs">0,7</text>
<text x="920.7" y="1636.2" textLength="41.4" lengthAdjust="spacingAndGlyphs">36,8</text>
<text x="990.9" y="1636.2" textLength="29.2" lengthAdjust="spacingAndGlyphs">0,3</text>
<text x="1166.1" y="1636.2" textLength="29.2" lengthAdjust="spacingAndGlyphs">0,3</text>
<text x="1285.6" y="1636.2" textLength="29.2" lengthAdjust="spacingAndGlyphs">0,4</text>
<text x="1409.5" y="1636.2" textLength="41.4" lengthAdjust="spacingAndGlyphs">21,4</text>
<text x="1507.6" y="1636.2" textLength="29.2" lengthAdjust="spacingAndGlyphs">2,5</text>
<text x="1644.9" y="1636.2" textLength="53.6" lengthAdjust="spacingAndGlyphs">100,0</text>
<text x="105.0" y="1667.3" textLength="104.3" lengthAdjust="spacingAndGlyphs">THMM459</text>
<text x="226.3" y="1667.3" textLength="198.5" lengthAdjust="spacingAndGlyphs">Set21-31_magnetite</text>
<text x="623.8" y="1667.3" textLength="11.0" lengthAdjust="spacingAndGlyphs">1</text>
<text x="671.0" y="1667.3" textLength="11.0" lengthAdjust="spacingAndGlyphs">0</text>
<text x="695.2" y="1667.3" textLength="11.0" lengthAdjust="spacingAndGlyphs">0</text>
<text x="796.4" y="1667.3" textLength="29.2" lengthAdjust="spacingAndGlyphs">4,7</text>
<text x="861.5" y="1667.3" textLength="29.2" lengthAdjust="spacingAndGlyphs">5,2</text>
<text x="926.8" y="1667.3" textLength="29.2" lengthAdjust="spacingAndGlyphs">5,4</text>
<text x="1166.1" y="1667.3" textLength="29.2" lengthAdjust="spacingAndGlyphs">1,1</text>
<text x="1285.6" y="1667.3" textLength="29.2" lengthAdjust="spacingAndGlyphs">1,9</text>
<text x="1409.5" y="1667.3" textLength="41.4" lengthAdjust="spacingAndGlyphs">79,9</text>
<text x="1507.6" y="1667.3" textLength="29.2" lengthAdjust="spacingAndGlyphs">1,9</text>
<text x="1644.9" y="1667.3" textLength="53.6" lengthAdjust="spacingAndGlyphs">100,0</text>
<text x="105.0" y="1698.3" textLength="104.3" lengthAdjust="spacingAndGlyphs">THMM459</text>
<text x="226.3" y="1698.3" textLength="161.0" lengthAdjust="spacingAndGlyphs">Set21-31_matrix</text>
<text x="623.8" y="1698.3" textLength="11.0" lengthAdjust="spacingAndGlyphs">1</text>
<text x="671.0" y="1698.3" textLength="11.0" lengthAdjust="spacingAndGlyphs">0</text>
<text x="695.2" y="1698.3" textLength="11.0" lengthAdjust="spacingAndGlyphs">0</text>
<text x="796.4" y="1698.3" textLength="29.2" lengthAdjust="spacingAndGlyphs">4,1</text>
<text x="861.5" y="1698.3" textLength="29.2" lengthAdjust="spacingAndGlyphs">8,4</text>
<text x="920.7" y="1698.3" textLength="41.4" lengthAdjust="spacingAndGlyphs">44,0</text>
<text x="990.9" y="1698.3" textLength="29.2" lengthAdjust="spacingAndGlyphs">0,8</text>
<text x="1160.0" y="1698.3" textLength="41.4" lengthAdjust="spacingAndGlyphs">10,9</text>
<text x="1285.6" y="1698.3" textLength="29.2" lengthAdjust="spacingAndGlyphs">0,1</text>
<text x="1409.5" y="1698.3" textLength="41.4" lengthAdjust="spacingAndGlyphs">31,6</text>
<text x="1507.6" y="1698.3" textLength="29.2" lengthAdjust="spacingAndGlyphs">0,1</text>
<text x="1644.9" y="1698.3" textLength="53.6" lengthAdjust="spacingAndGlyphs">100,0</text>
</g>
<text x="105" y="1729" font-family="'Liberation Sans', sans-serif" font-size="18.6px" fill="#000" stroke="#000" stroke-width="0.2" textLength="1162.8" lengthAdjust="spacingAndGlyphs">setting 1: preset elements: C(not unfolding),O,Mg,Al,Si,Ca,Cr,Fe,Ni; optional elements: Na,P,S,K,Ti,Mn,Co,Cu,Zn (values normalized to 100%)</text>
</svg>
</body></html>
